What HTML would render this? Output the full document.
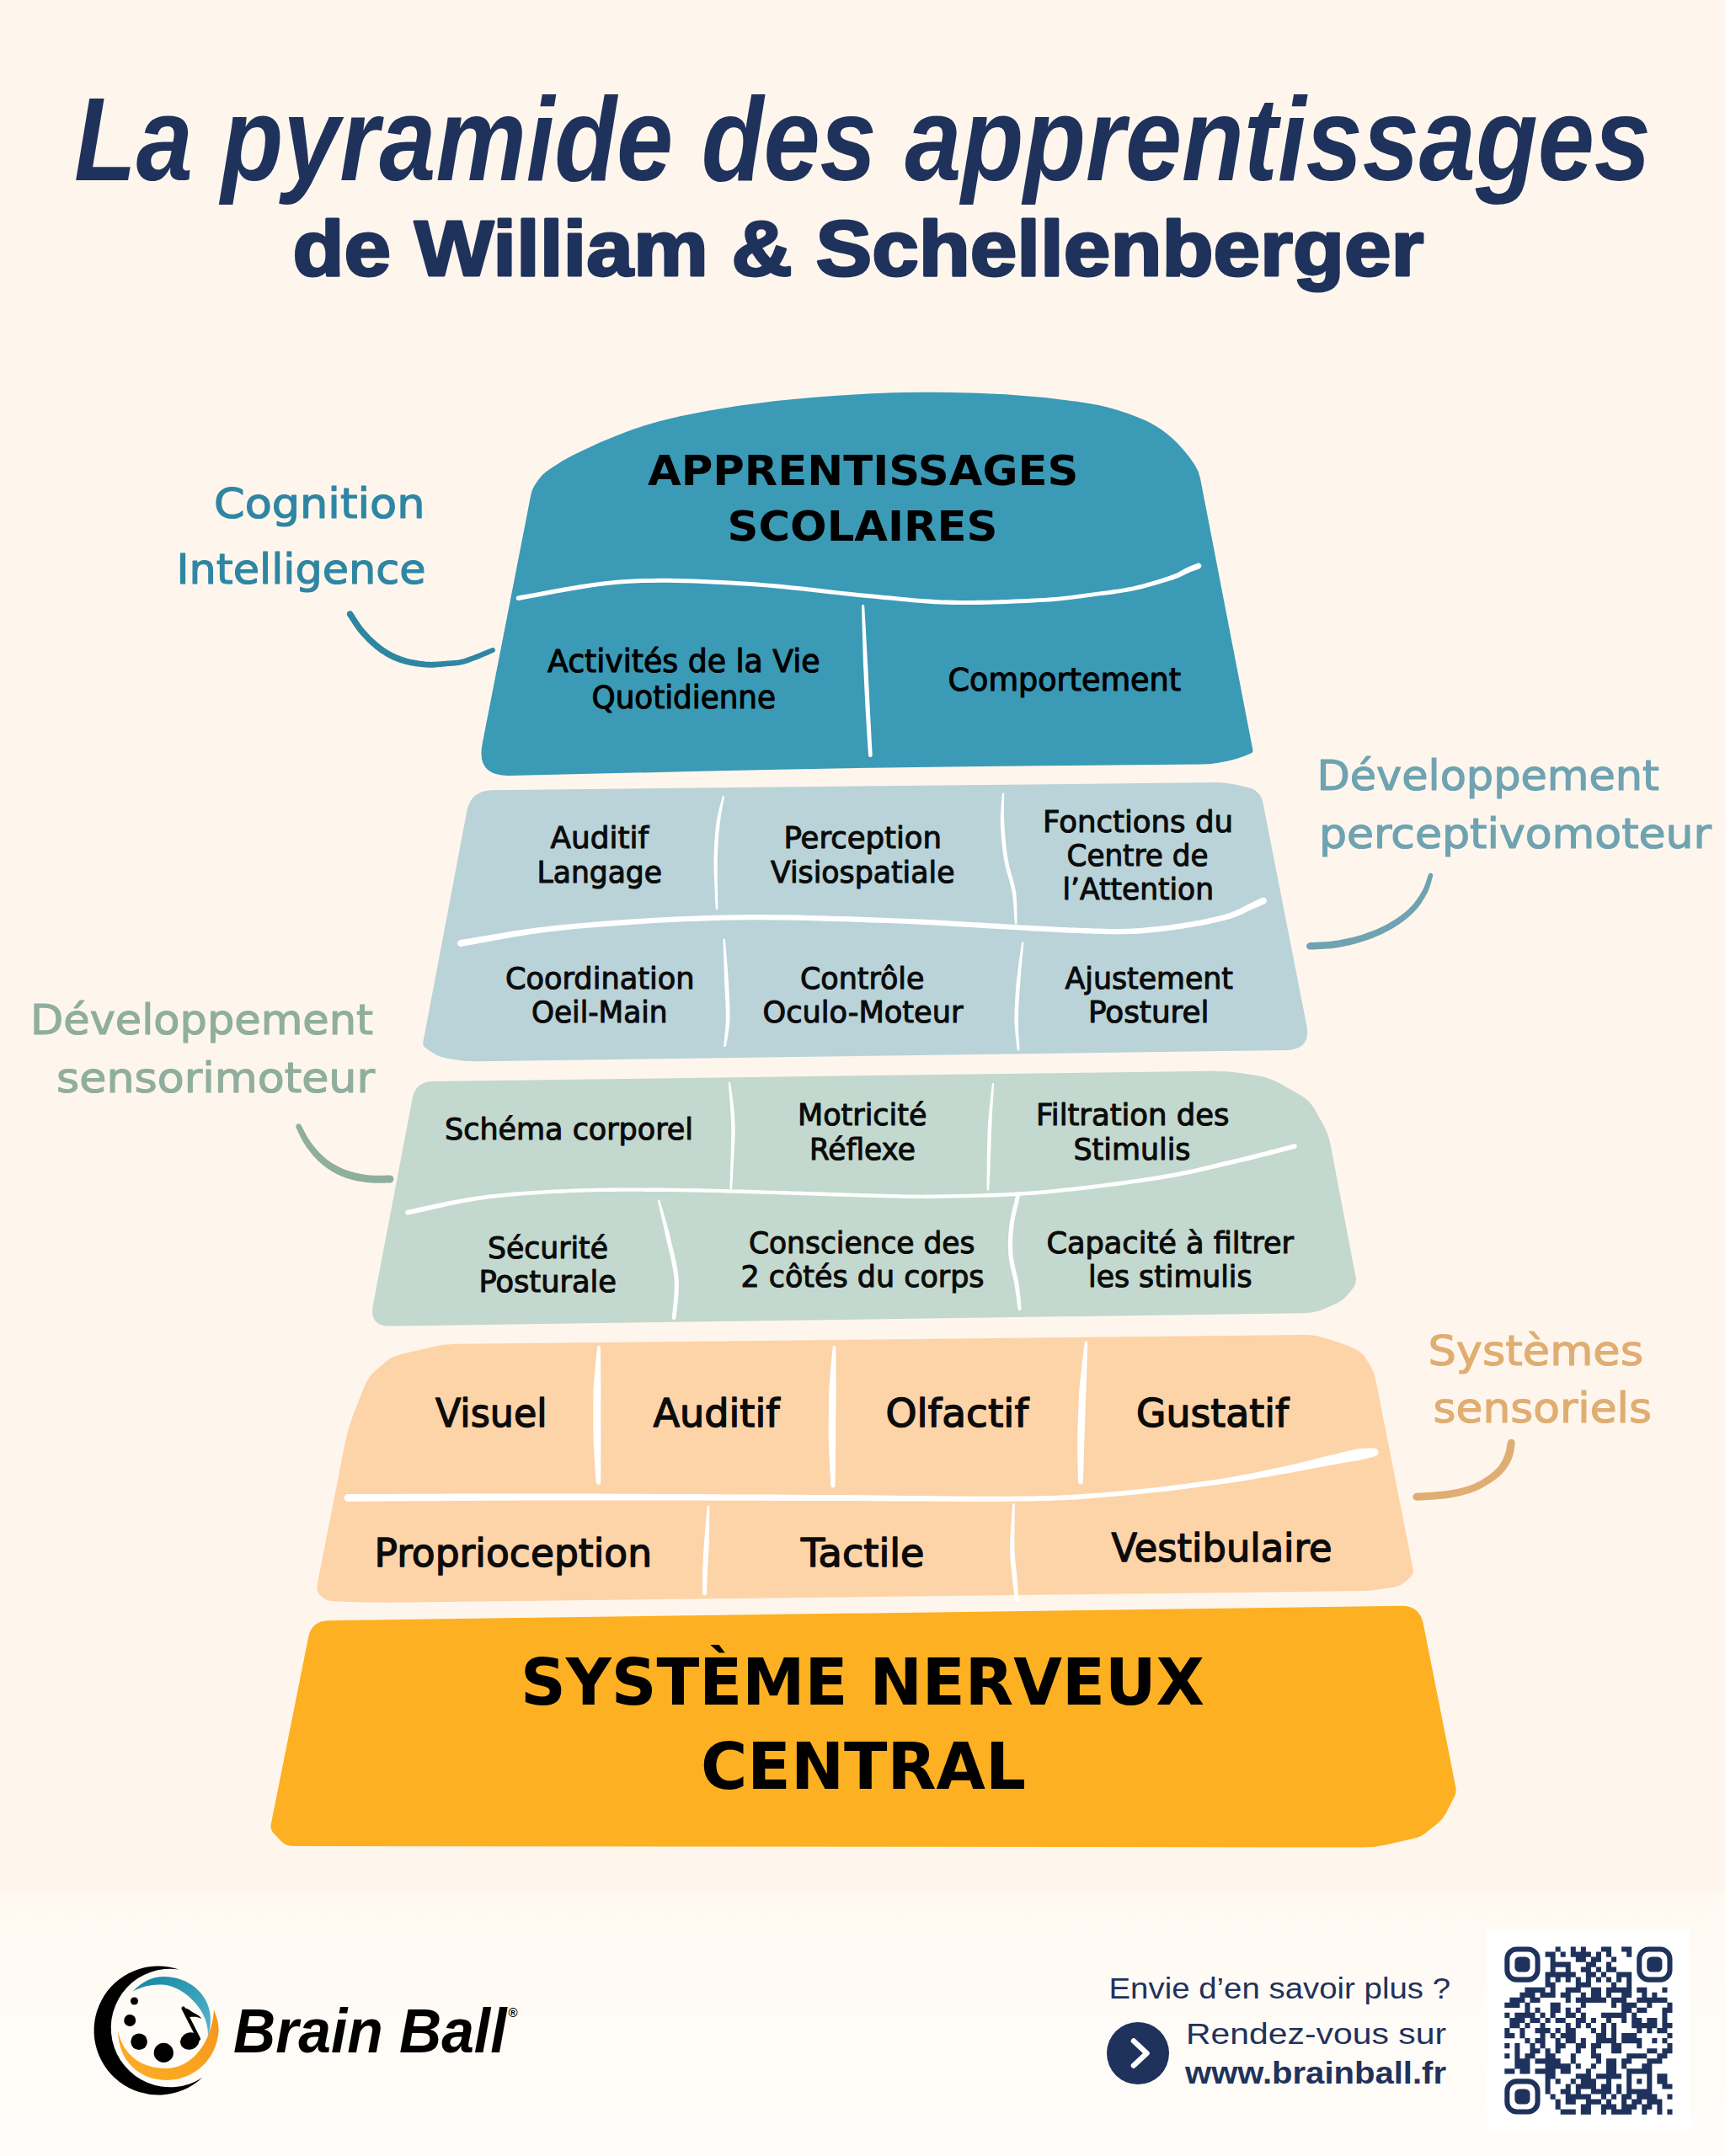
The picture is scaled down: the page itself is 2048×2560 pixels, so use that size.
<!DOCTYPE html>
<html lang="fr"><head><meta charset="utf-8"><title>La pyramide des apprentissages</title>
<style>
html,body{margin:0;padding:0;background:#fef6ec;}
body{width:2048px;height:2560px;overflow:hidden;}
svg{display:block;}
text{white-space:pre;}
</style></head><body>
<svg width="2048" height="2560" viewBox="0 0 2048 2560">
<rect width="2048" height="2560" fill="#fef6ec"/>
<linearGradient id="ftg" x1="0" y1="0" x2="0" y2="1"><stop offset="0" stop-color="#fff9f2"/><stop offset="1" stop-color="#fffdfa"/></linearGradient>
<rect y="2248.5" width="2048" height="311.5" fill="url(#ftg)"/>
<text x="88.0" y="213.5" font-family="'Liberation Sans',sans-serif" font-size="141" font-weight="700" font-style="italic" fill="#1f325c" textLength="1872.0" lengthAdjust="spacingAndGlyphs" >La pyramide des apprentissages</text>
<text x="347.5" y="326.5" font-family="'Liberation Sans',sans-serif" font-size="92" font-weight="700" font-style="normal" fill="#1f325c" textLength="1343.0" lengthAdjust="spacingAndGlyphs" stroke="#1f325c" stroke-width="3" stroke-linejoin="round">de William &amp; Schellenberger</text>
<path d="M630.3,587.5 Q631.4,581.6 634.6,576.6 L638.6,570.4 Q642.9,563.7 649.5,559.2 L655.0,555.4 Q667.1,547.1 680.2,540.6 L690.1,535.7 Q713.1,524.2 737.2,515.2 L743.7,512.7 Q774.3,501.2 806.3,494.4 L807.5,494.2 Q840.6,487.2 874.1,482.2 L878.9,481.4 Q917.1,475.7 955.7,472.7 L970.0,471.6 Q1000.0,469.3 1030.0,467.6 L1030.0,467.6 Q1060.0,466.0 1090.0,465.8 L1104.7,465.8 Q1149.3,465.5 1193.9,468.3 L1200.0,468.7 Q1238.6,471.1 1276.8,476.6 L1288.1,478.2 Q1315.1,482.1 1340.6,491.6 L1351.5,495.7 Q1366.1,501.2 1378.8,510.1 L1379.0,510.3 Q1391.6,519.1 1401.8,530.5 L1404.9,534.0 Q1412.0,542.0 1417.8,551.0 L1419.2,553.3 Q1423.5,560.0 1425.0,567.9 L1487.4,890.6 Q1488.0,893.5 1485.2,894.6 L1477.3,897.8 Q1468.0,901.5 1458.2,903.5 L1447.8,905.5 Q1438.0,907.5 1428.0,907.6 L1235.5,909.2 Q1033.0,911.0 830.5,915.8 L605.0,921.1 Q565.0,922.0 572.7,882.7 Z" fill="#3b9ab6"/>
<path d="M554.3,963.1 Q559.0,938.5 584.0,938.2 L1443.0,929.1 Q1455.0,929.0 1466.7,931.6 L1482.6,935.2 Q1488.5,936.5 1492.7,940.7 L1494.5,942.5 Q1498.0,946.0 1499.0,950.9 L1551.2,1217.1 Q1557.0,1246.5 1527.0,1246.9 L566.0,1260.3 Q552.0,1260.5 538.2,1258.1 L530.8,1256.7 Q521.0,1255.0 512.7,1249.5 L505.7,1244.8 Q501.5,1242.0 502.4,1237.1 Z" fill="#b9d3d9"/>
<path d="M489.7,1303.9 Q493.5,1284.3 513.5,1284.0 L1438.0,1271.8 Q1458.0,1271.5 1477.7,1274.8 L1494.2,1277.5 Q1508.0,1279.8 1520.2,1286.8 L1544.6,1300.7 Q1555.0,1306.7 1560.9,1317.2 L1571.1,1335.5 Q1577.0,1346.0 1579.3,1357.8 L1609.5,1516.1 Q1611.0,1524.0 1605.9,1530.2 L1599.6,1537.8 Q1594.5,1544.0 1587.2,1547.4 L1574.7,1553.1 Q1562.0,1559.0 1548.0,1559.2 L464.0,1574.6 Q438.0,1575.0 442.9,1549.5 Z" fill="#c3d8ce"/>
<path d="M409.2,1715.6 Q413.0,1696.0 420.3,1677.4 L432.6,1646.2 Q437.0,1635.0 446.1,1627.2 L457.9,1617.1 Q465.5,1610.6 475.2,1608.3 L510.9,1599.7 Q526.5,1596.0 542.5,1595.8 L1548.0,1585.1 Q1562.0,1585.0 1575.3,1589.4 L1595.4,1596.0 Q1603.0,1598.5 1610.0,1602.4 L1612.8,1604.0 Q1618.0,1607.0 1621.1,1612.1 L1627.3,1622.2 Q1631.5,1629.0 1633.0,1636.8 L1677.6,1863.1 Q1678.8,1869.0 1674.3,1872.9 L1668.1,1878.3 Q1662.0,1883.5 1654.1,1884.7 L1636.9,1887.2 Q1625.0,1889.0 1613.0,1889.1 L466.0,1902.7 Q440.0,1903.0 414.0,1902.0 L396.0,1901.3 Q388.0,1901.0 381.9,1895.8 L381.1,1895.2 Q375.0,1890.0 376.5,1882.1 Z" fill="#fdd3a8"/>
<path d="M366.1,1944.1 Q370.0,1924.5 390.0,1924.2 L1663.5,1906.8 Q1685.5,1906.5 1689.8,1928.1 L1728.3,2122.1 Q1729.5,2128.0 1726.8,2133.3 L1716.7,2152.9 Q1713.0,2160.0 1706.8,2165.0 L1693.2,2176.0 Q1687.0,2181.0 1679.2,2182.8 L1645.7,2190.4 Q1632.0,2193.5 1618.0,2193.5 L347.0,2192.0 Q339.0,2192.0 333.6,2186.1 L324.6,2176.4 Q320.5,2172.0 321.7,2166.1 Z" fill="#fdb022"/>
<path d="M615.8,712.9 L621.0,712.0 L627.2,710.8 L634.4,709.5 L642.5,707.9 L651.3,706.2 L660.7,704.5 L670.5,702.7 L680.8,700.9 L691.2,699.2 L701.8,697.5 L712.4,696.1 L722.9,694.8 L733.2,693.7 L743.1,692.9 L752.8,692.4 L762.8,692.1 L772.8,691.9 L783.0,691.8 L793.3,691.8 L803.7,692.0 L814.2,692.2 L824.7,692.6 L835.2,693.0 L845.8,693.5 L856.3,694.0 L866.8,694.6 L877.3,695.2 L887.7,695.8 L898.1,696.5 L908.7,697.3 L919.5,698.3 L930.4,699.3 L941.2,700.4 L952.1,701.6 L962.9,702.8 L973.6,704.0 L984.2,705.2 L994.5,706.3 L1004.5,707.5 L1014.2,708.5 L1023.6,709.5 L1032.5,710.3 L1040.9,711.1 L1048.9,711.9 L1056.5,712.6 L1063.7,713.3 L1070.6,714.0 L1077.3,714.6 L1083.9,715.3 L1090.4,715.8 L1096.8,716.3 L1103.3,716.8 L1109.9,717.2 L1116.7,717.5 L1123.7,717.8 L1130.9,718.0 L1138.5,718.1 L1146.4,718.1 L1154.6,718.1 L1162.8,718.0 L1171.2,717.8 L1179.6,717.5 L1188.0,717.3 L1196.2,717.0 L1204.4,716.6 L1212.2,716.2 L1219.8,715.9 L1227.0,715.5 L1233.8,715.1 L1240.1,714.7 L1246.0,714.4 L1251.5,714.0 L1256.6,713.5 L1261.4,713.1 L1265.9,712.6 L1270.2,712.1 L1274.3,711.6 L1278.2,711.1 L1282.0,710.6 L1285.7,710.1 L1289.3,709.5 L1293.0,709.0 L1296.6,708.5 L1300.3,708.0 L1304.0,707.6 L1307.6,707.1 L1311.0,706.7 L1314.4,706.3 L1317.6,705.9 L1320.9,705.5 L1324.0,705.0 L1327.1,704.6 L1330.2,704.1 L1333.4,703.6 L1336.5,703.1 L1339.6,702.5 L1342.8,701.9 L1346.0,701.2 L1349.4,700.5 L1352.8,699.7 L1356.3,698.9 L1359.8,698.0 L1363.4,697.0 L1367.0,696.1 L1370.5,695.1 L1373.9,694.1 L1377.2,693.1 L1380.5,692.1 L1383.5,691.2 L1386.4,690.3 L1389.1,689.5 L1391.6,688.7 L1393.9,687.9 L1395.9,687.1 L1397.8,686.4 L1399.6,685.7 L1401.1,685.0 L1402.6,684.3 L1403.9,683.7 L1405.2,683.1 L1406.3,682.5 L1407.4,681.9 L1408.5,681.4 L1409.5,680.9 L1410.5,680.4 L1411.6,680.0 L1412.7,679.5 L1413.8,679.1 L1414.9,678.6 L1416.0,678.2 L1417.1,677.8 L1418.1,677.4 L1419.1,677.0 L1420.0,676.7 L1420.9,676.4 L1421.7,676.1 L1422.4,675.8 L1423.1,675.6 L1423.7,675.4 L1424.2,675.2 L1425.6,674.1 L1426.4,672.5 L1426.2,670.8 L1425.1,669.4 L1423.5,668.6 L1421.8,668.8 L1421.3,669.0 L1420.7,669.3 L1420.1,669.5 L1419.3,669.8 L1418.5,670.1 L1417.6,670.5 L1416.7,670.8 L1415.7,671.2 L1414.7,671.6 L1413.6,672.1 L1412.5,672.5 L1411.3,673.0 L1410.2,673.5 L1409.0,674.0 L1407.8,674.6 L1406.7,675.2 L1405.5,675.8 L1404.5,676.4 L1403.4,677.0 L1402.3,677.7 L1401.1,678.3 L1399.9,679.0 L1398.6,679.7 L1397.2,680.4 L1395.6,681.1 L1393.9,681.8 L1391.9,682.6 L1389.8,683.3 L1387.4,684.2 L1384.7,685.1 L1381.9,686.0 L1378.9,687.0 L1375.7,688.0 L1372.4,689.0 L1369.0,690.0 L1365.5,691.0 L1362.0,692.0 L1358.5,693.0 L1355.0,693.9 L1351.6,694.8 L1348.2,695.6 L1345.0,696.4 L1341.8,697.0 L1338.7,697.6 L1335.6,698.2 L1332.5,698.7 L1329.5,699.2 L1326.4,699.7 L1323.3,700.1 L1320.2,700.6 L1317.0,701.0 L1313.8,701.4 L1310.4,701.8 L1307.0,702.2 L1303.4,702.7 L1299.7,703.2 L1295.9,703.7 L1292.3,704.2 L1288.6,704.7 L1285.0,705.2 L1281.3,705.7 L1277.5,706.2 L1273.7,706.8 L1269.6,707.3 L1265.4,707.7 L1260.9,708.2 L1256.1,708.7 L1251.1,709.1 L1245.7,709.5 L1239.9,709.9 L1233.6,710.2 L1226.8,710.6 L1219.6,710.9 L1212.0,711.3 L1204.1,711.6 L1196.1,711.9 L1187.8,712.2 L1179.5,712.5 L1171.1,712.7 L1162.7,712.8 L1154.5,712.9 L1146.4,713.0 L1138.6,712.9 L1131.1,712.8 L1123.8,712.6 L1116.9,712.4 L1110.2,712.0 L1103.7,711.6 L1097.2,711.2 L1090.8,710.7 L1084.3,710.2 L1077.8,709.6 L1071.1,709.0 L1064.2,708.3 L1056.9,707.6 L1049.4,706.9 L1041.4,706.1 L1033.0,705.3 L1024.1,704.5 L1014.8,703.5 L1005.1,702.5 L995.0,701.4 L984.7,700.2 L974.2,699.0 L963.5,697.8 L952.7,696.6 L941.8,695.5 L930.8,694.3 L920.0,693.3 L909.1,692.4 L898.5,691.5 L888.0,690.8 L877.6,690.2 L867.1,689.6 L856.6,689.0 L846.0,688.5 L835.5,688.0 L824.9,687.6 L814.3,687.2 L803.8,687.0 L793.4,686.8 L783.0,686.8 L772.8,686.9 L762.6,687.1 L752.6,687.4 L742.7,687.9 L732.7,688.7 L722.4,689.7 L711.8,691.0 L701.1,692.4 L690.4,694.1 L679.9,695.8 L669.6,697.5 L659.7,699.3 L650.3,701.0 L641.5,702.7 L633.4,704.2 L626.2,705.5 L620.0,706.6 L614.9,707.4 L613.6,708.0 L612.8,709.2 L612.6,710.6 L613.2,711.9 L614.4,712.7Z" fill="#fff"/>
<path d="M1023.1,719.5 L1023.1,722.3 L1023.2,725.8 L1023.3,729.8 L1023.4,734.4 L1023.5,739.3 L1023.7,744.6 L1023.8,750.1 L1024.0,755.7 L1024.2,761.5 L1024.3,767.1 L1024.5,772.7 L1024.6,778.1 L1024.8,783.2 L1024.9,787.9 L1025.1,792.4 L1025.4,796.8 L1025.6,801.2 L1025.8,805.5 L1026.0,809.7 L1026.2,813.9 L1026.4,818.0 L1026.6,822.1 L1026.8,826.2 L1027.0,830.2 L1027.2,834.2 L1027.4,838.1 L1027.6,842.0 L1027.8,845.9 L1028.1,849.9 L1028.3,854.0 L1028.6,858.3 L1028.8,862.5 L1029.1,866.8 L1029.3,871.0 L1029.6,875.1 L1029.8,879.0 L1030.1,882.8 L1030.3,886.3 L1030.5,889.5 L1030.7,892.4 L1030.9,894.9 L1031.0,896.9 L1031.4,898.1 L1032.3,898.9 L1033.5,899.1 L1034.6,898.8 L1035.4,897.9 L1035.7,896.7 L1035.6,894.6 L1035.4,892.1 L1035.3,889.2 L1035.1,886.0 L1034.9,882.5 L1034.7,878.7 L1034.5,874.8 L1034.3,870.7 L1034.1,866.5 L1033.9,862.2 L1033.6,858.0 L1033.4,853.8 L1033.2,849.6 L1033.0,845.7 L1032.8,841.8 L1032.6,837.8 L1032.4,833.9 L1032.2,829.9 L1032.0,825.9 L1031.8,821.9 L1031.6,817.8 L1031.4,813.6 L1031.2,809.5 L1031.0,805.2 L1030.8,800.9 L1030.5,796.6 L1030.3,792.2 L1030.1,787.7 L1029.8,783.0 L1029.5,777.9 L1029.2,772.5 L1028.9,766.9 L1028.6,761.3 L1028.3,755.6 L1028.0,749.9 L1027.7,744.4 L1027.4,739.2 L1027.1,734.2 L1026.8,729.7 L1026.6,725.6 L1026.4,722.2 L1026.2,719.4 L1026.0,718.6 L1025.4,718.0 L1024.6,717.9 L1023.8,718.1 L1023.3,718.7Z" fill="#fff"/>
<path d="M547.6,1123.9 L552.5,1123.1 L558.3,1122.0 L564.8,1120.8 L572.1,1119.4 L580.0,1118.0 L588.5,1116.4 L597.6,1114.8 L607.2,1113.1 L617.1,1111.5 L627.5,1109.8 L638.1,1108.3 L649.0,1106.8 L660.1,1105.4 L671.3,1104.2 L682.9,1103.1 L695.1,1102.0 L707.9,1100.9 L721.2,1099.9 L734.8,1098.9 L748.8,1097.9 L763.0,1097.0 L777.4,1096.1 L791.9,1095.3 L806.4,1094.6 L820.8,1094.0 L835.1,1093.4 L849.2,1092.9 L863.1,1092.6 L876.8,1092.4 L890.6,1092.3 L904.6,1092.3 L918.5,1092.4 L932.6,1092.5 L946.5,1092.8 L960.5,1093.1 L974.3,1093.5 L988.1,1093.9 L1001.7,1094.3 L1015.1,1094.7 L1028.3,1095.2 L1041.2,1095.7 L1053.9,1096.1 L1066.4,1096.6 L1079.1,1097.1 L1091.7,1097.7 L1104.3,1098.3 L1116.8,1099.0 L1129.0,1099.7 L1141.1,1100.4 L1152.8,1101.0 L1164.1,1101.7 L1175.0,1102.4 L1185.4,1103.0 L1195.2,1103.6 L1204.4,1104.1 L1212.8,1104.6 L1220.5,1105.0 L1227.2,1105.4 L1233.3,1105.7 L1238.7,1106.0 L1243.6,1106.3 L1248.1,1106.6 L1252.2,1106.8 L1256.1,1107.0 L1259.8,1107.2 L1263.5,1107.4 L1267.3,1107.6 L1271.2,1107.7 L1275.4,1107.9 L1279.9,1108.0 L1284.6,1108.2 L1289.3,1108.4 L1293.9,1108.6 L1298.6,1108.7 L1303.3,1108.9 L1307.9,1109.0 L1312.6,1109.2 L1317.2,1109.3 L1321.8,1109.3 L1326.5,1109.4 L1331.1,1109.3 L1335.8,1109.3 L1340.5,1109.1 L1345.2,1108.9 L1349.9,1108.7 L1354.7,1108.4 L1359.5,1108.0 L1364.4,1107.5 L1369.2,1107.1 L1374.1,1106.5 L1378.9,1106.0 L1383.7,1105.4 L1388.4,1104.8 L1393.1,1104.2 L1397.6,1103.5 L1402.0,1102.9 L1406.4,1102.3 L1410.5,1101.6 L1414.6,1101.0 L1418.6,1100.3 L1422.5,1099.6 L1426.4,1098.9 L1430.2,1098.1 L1433.9,1097.4 L1437.6,1096.6 L1441.1,1095.8 L1444.5,1095.0 L1447.8,1094.3 L1450.9,1093.5 L1453.9,1092.7 L1456.8,1091.9 L1459.6,1091.2 L1462.1,1090.4 L1464.6,1089.6 L1466.8,1088.8 L1468.9,1088.0 L1470.8,1087.2 L1472.6,1086.4 L1474.3,1085.6 L1476.0,1084.9 L1477.5,1084.1 L1479.0,1083.4 L1480.4,1082.7 L1481.8,1082.0 L1483.1,1081.3 L1484.5,1080.7 L1486.0,1080.1 L1487.5,1079.4 L1489.0,1078.8 L1490.5,1078.1 L1491.9,1077.5 L1493.3,1076.9 L1494.7,1076.3 L1495.9,1075.7 L1497.1,1075.1 L1498.3,1074.6 L1499.3,1074.2 L1500.2,1073.8 L1501.0,1073.4 L1501.7,1073.1 L1503.3,1071.8 L1504.0,1069.9 L1503.6,1067.8 L1502.3,1066.2 L1500.4,1065.5 L1498.3,1065.9 L1497.7,1066.2 L1496.9,1066.6 L1496.0,1067.0 L1494.9,1067.5 L1493.8,1068.0 L1492.7,1068.6 L1491.4,1069.2 L1490.1,1069.8 L1488.7,1070.5 L1487.3,1071.2 L1485.9,1071.8 L1484.4,1072.5 L1482.9,1073.2 L1481.5,1073.9 L1479.9,1074.6 L1478.5,1075.4 L1477.0,1076.1 L1475.6,1076.9 L1474.2,1077.7 L1472.7,1078.4 L1471.2,1079.2 L1469.6,1080.0 L1468.0,1080.8 L1466.2,1081.6 L1464.3,1082.3 L1462.3,1083.1 L1460.1,1083.9 L1457.6,1084.6 L1455.0,1085.4 L1452.2,1086.2 L1449.2,1087.0 L1446.2,1087.7 L1442.9,1088.5 L1439.6,1089.3 L1436.1,1090.1 L1432.6,1090.9 L1428.9,1091.7 L1425.2,1092.4 L1421.3,1093.1 L1417.5,1093.8 L1413.5,1094.5 L1409.5,1095.2 L1405.4,1095.8 L1401.1,1096.5 L1396.7,1097.1 L1392.2,1097.7 L1387.6,1098.4 L1382.9,1099.0 L1378.1,1099.5 L1373.4,1100.1 L1368.6,1100.6 L1363.7,1101.1 L1359.0,1101.5 L1354.2,1101.9 L1349.5,1102.2 L1344.8,1102.5 L1340.2,1102.7 L1335.7,1102.8 L1331.1,1102.9 L1326.5,1102.9 L1321.9,1102.9 L1317.3,1102.9 L1312.7,1102.8 L1308.1,1102.7 L1303.5,1102.5 L1298.8,1102.4 L1294.2,1102.2 L1289.5,1102.1 L1284.8,1101.9 L1280.1,1101.8 L1275.6,1101.6 L1271.5,1101.5 L1267.6,1101.3 L1263.8,1101.1 L1260.1,1101.0 L1256.4,1100.8 L1252.5,1100.6 L1248.4,1100.3 L1244.0,1100.1 L1239.1,1099.8 L1233.7,1099.5 L1227.6,1099.2 L1220.8,1098.8 L1213.2,1098.4 L1204.7,1097.9 L1195.6,1097.4 L1185.8,1096.8 L1175.4,1096.2 L1164.5,1095.5 L1153.2,1094.9 L1141.4,1094.2 L1129.4,1093.5 L1117.1,1092.8 L1104.6,1092.1 L1092.0,1091.5 L1079.3,1090.9 L1066.7,1090.4 L1054.1,1089.9 L1041.5,1089.5 L1028.5,1089.0 L1015.3,1088.6 L1001.9,1088.1 L988.3,1087.7 L974.5,1087.3 L960.6,1086.9 L946.7,1086.6 L932.6,1086.3 L918.6,1086.2 L904.6,1086.1 L890.6,1086.1 L876.7,1086.2 L862.9,1086.4 L849.1,1086.7 L834.9,1087.2 L820.6,1087.7 L806.1,1088.3 L791.6,1089.1 L777.0,1089.8 L762.6,1090.7 L748.4,1091.6 L734.4,1092.6 L720.7,1093.6 L707.4,1094.6 L694.6,1095.7 L682.3,1096.7 L670.7,1097.8 L659.4,1098.9 L648.2,1100.2 L637.2,1101.6 L626.5,1103.0 L616.1,1104.6 L606.0,1106.1 L596.4,1107.7 L587.3,1109.2 L578.7,1110.7 L570.7,1112.0 L563.5,1113.3 L556.9,1114.4 L551.2,1115.3 L546.4,1116.1 L544.5,1116.9 L543.3,1118.6 L543.1,1120.6 L543.9,1122.5 L545.6,1123.7Z" fill="#fff"/>
<path d="M857.7,945.9 L857.4,947.1 L857.0,948.6 L856.5,950.3 L856.0,952.2 L855.4,954.3 L854.8,956.6 L854.2,959.0 L853.6,961.5 L853.0,964.1 L852.4,966.8 L851.8,969.5 L851.3,972.2 L850.8,975.0 L850.3,977.7 L850.0,980.5 L849.7,983.2 L849.4,986.1 L849.1,988.9 L848.8,991.9 L848.6,994.9 L848.4,998.0 L848.2,1001.1 L848.0,1004.3 L847.8,1007.5 L847.7,1010.9 L847.6,1014.3 L847.5,1017.8 L847.4,1021.4 L847.4,1025.2 L847.5,1029.4 L847.6,1033.8 L847.8,1038.5 L848.0,1043.3 L848.2,1048.1 L848.4,1052.9 L848.6,1057.5 L848.8,1062.0 L849.0,1066.2 L849.2,1070.1 L849.4,1073.5 L849.6,1076.5 L849.7,1078.8 L849.9,1079.5 L850.4,1080.0 L851.0,1080.1 L851.7,1079.9 L852.2,1079.4 L852.3,1078.8 L852.3,1076.4 L852.3,1073.4 L852.2,1070.0 L852.1,1066.1 L852.1,1061.9 L852.0,1057.4 L851.9,1052.8 L851.8,1048.0 L851.7,1043.2 L851.7,1038.4 L851.7,1033.8 L851.7,1029.4 L851.7,1025.2 L851.8,1021.4 L851.9,1017.9 L852.0,1014.4 L852.1,1011.1 L852.2,1007.7 L852.4,1004.5 L852.6,1001.4 L852.8,998.3 L853.0,995.2 L853.2,992.3 L853.5,989.4 L853.8,986.5 L854.1,983.7 L854.4,981.0 L854.7,978.3 L855.0,975.6 L855.3,972.9 L855.7,970.2 L856.1,967.5 L856.5,964.8 L857.0,962.2 L857.4,959.7 L857.9,957.3 L858.3,955.0 L858.7,952.9 L859.1,950.9 L859.4,949.2 L859.7,947.6 L859.9,946.3 L859.8,945.8 L859.5,945.3 L859.0,945.0 L858.5,945.1 L858.0,945.4Z" fill="#fff"/>
<path d="M1189.9,942.6 L1189.7,944.0 L1189.6,945.7 L1189.4,947.6 L1189.2,949.8 L1189.0,952.2 L1188.8,954.8 L1188.6,957.5 L1188.4,960.3 L1188.2,963.3 L1188.0,966.2 L1187.9,969.2 L1187.8,972.2 L1187.8,975.2 L1187.8,978.1 L1187.9,981.0 L1188.1,984.0 L1188.3,987.0 L1188.5,990.2 L1188.8,993.3 L1189.1,996.5 L1189.4,999.8 L1189.7,1003.0 L1190.1,1006.3 L1190.4,1009.5 L1190.9,1012.6 L1191.3,1015.8 L1191.7,1018.8 L1192.2,1021.8 L1192.8,1024.7 L1193.4,1027.6 L1194.1,1030.4 L1194.8,1033.2 L1195.5,1035.9 L1196.3,1038.6 L1197.1,1041.3 L1197.8,1043.9 L1198.6,1046.5 L1199.3,1049.1 L1199.9,1051.7 L1200.5,1054.3 L1201.1,1056.9 L1201.5,1059.5 L1202.0,1062.1 L1202.4,1065.0 L1202.7,1067.9 L1203.0,1071.0 L1203.3,1074.0 L1203.5,1077.1 L1203.7,1080.1 L1203.9,1083.0 L1204.0,1085.8 L1204.2,1088.4 L1204.3,1090.8 L1204.4,1092.9 L1204.6,1094.8 L1204.7,1096.3 L1204.9,1097.0 L1205.5,1097.4 L1206.2,1097.6 L1206.9,1097.4 L1207.3,1096.8 L1207.5,1096.1 L1207.5,1094.6 L1207.5,1092.8 L1207.5,1090.7 L1207.5,1088.3 L1207.4,1085.7 L1207.4,1082.9 L1207.4,1079.9 L1207.3,1076.9 L1207.2,1073.8 L1207.1,1070.7 L1206.9,1067.6 L1206.7,1064.5 L1206.4,1061.6 L1206.1,1058.7 L1205.6,1056.0 L1205.0,1053.3 L1204.4,1050.6 L1203.7,1048.0 L1203.0,1045.3 L1202.3,1042.6 L1201.5,1040.0 L1200.7,1037.4 L1200.0,1034.7 L1199.2,1032.0 L1198.5,1029.3 L1197.9,1026.6 L1197.3,1023.8 L1196.8,1021.0 L1196.3,1018.1 L1195.8,1015.1 L1195.4,1012.0 L1195.0,1008.9 L1194.6,1005.7 L1194.3,1002.5 L1194.0,999.3 L1193.6,996.1 L1193.4,993.0 L1193.1,989.8 L1192.9,986.7 L1192.7,983.7 L1192.5,980.7 L1192.4,977.9 L1192.2,975.1 L1192.1,972.2 L1192.0,969.3 L1192.0,966.3 L1192.0,963.4 L1192.0,960.5 L1192.0,957.7 L1192.0,955.0 L1192.1,952.4 L1192.1,950.0 L1192.2,947.8 L1192.2,945.8 L1192.2,944.1 L1192.1,942.6 L1192.0,942.1 L1191.6,941.6 L1191.0,941.5 L1190.5,941.6 L1190.0,942.0Z" fill="#fff"/>
<path d="M858.5,1115.8 L858.5,1117.9 L858.6,1120.4 L858.7,1123.4 L858.8,1126.8 L859.0,1130.5 L859.1,1134.4 L859.3,1138.4 L859.4,1142.6 L859.6,1146.9 L859.7,1151.1 L859.9,1155.2 L860.0,1159.2 L860.1,1163.0 L860.2,1166.5 L860.4,1169.9 L860.5,1173.2 L860.7,1176.5 L860.9,1179.8 L861.0,1183.1 L861.2,1186.3 L861.4,1189.4 L861.5,1192.5 L861.6,1195.6 L861.7,1198.6 L861.7,1201.5 L861.8,1204.4 L861.8,1207.1 L861.7,1209.8 L861.7,1212.5 L861.6,1215.2 L861.4,1217.9 L861.2,1220.6 L861.0,1223.2 L860.8,1225.8 L860.5,1228.3 L860.3,1230.7 L860.0,1232.9 L859.8,1235.0 L859.6,1237.0 L859.4,1238.7 L859.3,1240.2 L859.2,1241.5 L859.3,1242.3 L859.7,1242.9 L860.4,1243.1 L861.2,1243.0 L861.8,1242.6 L862.0,1241.9 L862.3,1240.6 L862.5,1239.1 L862.8,1237.4 L863.2,1235.5 L863.6,1233.4 L864.0,1231.2 L864.3,1228.8 L864.7,1226.3 L865.1,1223.7 L865.5,1221.0 L865.8,1218.3 L866.1,1215.5 L866.3,1212.7 L866.5,1210.0 L866.6,1207.2 L866.6,1204.4 L866.5,1201.4 L866.5,1198.5 L866.4,1195.4 L866.3,1192.4 L866.1,1189.2 L866.0,1186.0 L865.8,1182.8 L865.7,1179.6 L865.5,1176.3 L865.3,1173.0 L865.2,1169.6 L865.0,1166.3 L864.7,1162.8 L864.5,1159.0 L864.2,1155.0 L863.8,1150.8 L863.5,1146.6 L863.2,1142.4 L862.9,1138.2 L862.5,1134.2 L862.2,1130.3 L861.9,1126.6 L861.6,1123.3 L861.3,1120.3 L861.1,1117.7 L860.9,1115.6 L860.7,1115.0 L860.2,1114.6 L859.6,1114.5 L859.0,1114.7 L858.6,1115.2Z" fill="#fff"/>
<path d="M1213.1,1119.3 L1212.8,1121.2 L1212.4,1123.5 L1212.0,1126.3 L1211.5,1129.3 L1211.1,1132.7 L1210.6,1136.2 L1210.0,1140.0 L1209.5,1143.8 L1209.0,1147.7 L1208.5,1151.6 L1208.0,1155.5 L1207.5,1159.2 L1207.1,1162.8 L1206.7,1166.2 L1206.4,1169.4 L1206.2,1172.7 L1205.9,1175.9 L1205.7,1179.1 L1205.5,1182.3 L1205.3,1185.5 L1205.1,1188.7 L1204.9,1191.8 L1204.8,1194.9 L1204.6,1198.0 L1204.5,1201.1 L1204.5,1204.1 L1204.4,1207.0 L1204.4,1209.9 L1204.5,1212.8 L1204.6,1215.8 L1204.8,1218.9 L1205.1,1221.9 L1205.3,1225.0 L1205.6,1228.0 L1205.9,1230.9 L1206.2,1233.6 L1206.5,1236.3 L1206.7,1238.8 L1207.0,1241.0 L1207.2,1243.0 L1207.5,1244.8 L1207.6,1246.2 L1207.9,1246.9 L1208.4,1247.3 L1209.1,1247.5 L1209.8,1247.2 L1210.2,1246.7 L1210.4,1246.0 L1210.3,1244.5 L1210.3,1242.8 L1210.1,1240.7 L1210.0,1238.5 L1209.9,1236.0 L1209.7,1233.4 L1209.5,1230.6 L1209.4,1227.7 L1209.2,1224.7 L1209.1,1221.7 L1209.0,1218.7 L1209.0,1215.7 L1209.0,1212.8 L1209.0,1209.9 L1209.0,1207.1 L1209.1,1204.1 L1209.1,1201.2 L1209.2,1198.2 L1209.4,1195.1 L1209.5,1192.1 L1209.7,1189.0 L1209.9,1185.8 L1210.1,1182.6 L1210.3,1179.5 L1210.5,1176.3 L1210.8,1173.0 L1211.0,1169.8 L1211.3,1166.6 L1211.5,1163.2 L1211.8,1159.7 L1212.1,1155.9 L1212.4,1152.1 L1212.7,1148.2 L1213.1,1144.2 L1213.5,1140.4 L1213.8,1136.6 L1214.2,1133.0 L1214.5,1129.7 L1214.8,1126.6 L1215.0,1123.8 L1215.2,1121.5 L1215.3,1119.5 L1215.3,1118.9 L1214.9,1118.5 L1214.3,1118.3 L1213.7,1118.3 L1213.3,1118.7Z" fill="#fff"/>
<path d="M484.6,1442.6 L488.2,1441.8 L492.6,1440.8 L497.6,1439.7 L503.3,1438.4 L509.4,1436.9 L515.9,1435.4 L522.8,1433.9 L530.0,1432.3 L537.4,1430.8 L544.9,1429.2 L552.4,1427.8 L559.8,1426.4 L567.2,1425.2 L574.3,1424.2 L581.4,1423.3 L588.7,1422.4 L596.1,1421.7 L603.7,1420.9 L611.3,1420.2 L619.0,1419.6 L626.8,1419.0 L634.7,1418.5 L642.6,1418.0 L650.5,1417.5 L658.3,1417.1 L666.2,1416.7 L674.0,1416.3 L681.7,1416.0 L689.4,1415.7 L697.1,1415.5 L704.7,1415.3 L712.4,1415.1 L720.1,1415.0 L727.8,1414.9 L735.5,1414.8 L743.2,1414.8 L750.9,1414.8 L758.6,1414.8 L766.3,1414.9 L774.0,1414.9 L781.7,1414.9 L789.4,1415.0 L797.0,1415.1 L804.4,1415.2 L811.7,1415.3 L818.9,1415.4 L826.0,1415.5 L833.2,1415.7 L840.5,1415.9 L847.9,1416.1 L855.4,1416.3 L863.1,1416.5 L871.1,1416.8 L879.5,1417.0 L888.2,1417.2 L897.2,1417.5 L907.0,1417.8 L917.4,1418.1 L928.5,1418.4 L940.0,1418.8 L951.8,1419.2 L963.9,1419.6 L975.9,1420.0 L987.9,1420.4 L999.7,1420.7 L1011.0,1421.1 L1021.9,1421.4 L1032.1,1421.7 L1041.5,1422.0 L1049.9,1422.2 L1057.4,1422.4 L1063.9,1422.5 L1069.6,1422.7 L1074.7,1422.8 L1079.3,1422.9 L1083.5,1423.0 L1087.5,1423.0 L1091.3,1423.1 L1095.2,1423.1 L1099.3,1423.0 L1103.7,1423.0 L1108.5,1422.9 L1113.9,1422.8 L1120.0,1422.7 L1126.7,1422.6 L1133.7,1422.4 L1140.9,1422.3 L1148.4,1422.2 L1156.0,1422.0 L1164.0,1421.8 L1172.1,1421.6 L1180.4,1421.4 L1188.8,1421.0 L1197.5,1420.6 L1206.2,1420.2 L1215.1,1419.6 L1224.1,1419.0 L1233.2,1418.3 L1242.6,1417.5 L1252.4,1416.5 L1262.6,1415.5 L1273.1,1414.4 L1283.8,1413.2 L1294.6,1411.9 L1305.4,1410.6 L1316.2,1409.3 L1326.9,1407.9 L1337.3,1406.5 L1347.5,1405.1 L1357.3,1403.7 L1366.6,1402.3 L1375.4,1401.0 L1383.7,1399.6 L1391.7,1398.2 L1399.5,1396.7 L1406.9,1395.3 L1414.1,1393.8 L1421.0,1392.3 L1427.8,1390.8 L1434.3,1389.2 L1440.7,1387.7 L1446.9,1386.3 L1453.0,1384.8 L1458.9,1383.4 L1464.8,1382.0 L1470.6,1380.6 L1476.4,1379.3 L1482.3,1377.9 L1488.1,1376.5 L1493.8,1375.1 L1499.4,1373.7 L1504.9,1372.3 L1510.1,1370.9 L1515.2,1369.6 L1519.9,1368.4 L1524.3,1367.3 L1528.3,1366.2 L1531.9,1365.3 L1535.1,1364.5 L1537.7,1363.8 L1539.0,1363.1 L1539.8,1361.8 L1539.8,1360.3 L1539.1,1359.0 L1537.8,1358.2 L1536.3,1358.2 L1533.6,1358.9 L1530.5,1359.7 L1526.9,1360.7 L1522.8,1361.8 L1518.4,1362.9 L1513.7,1364.2 L1508.7,1365.5 L1503.5,1366.9 L1498.1,1368.3 L1492.5,1369.7 L1486.8,1371.2 L1481.0,1372.6 L1475.2,1374.0 L1469.4,1375.4 L1463.6,1376.8 L1457.7,1378.2 L1451.7,1379.6 L1445.6,1381.1 L1439.5,1382.6 L1433.1,1384.2 L1426.6,1385.7 L1419.9,1387.2 L1413.0,1388.7 L1405.9,1390.3 L1398.5,1391.7 L1390.8,1393.2 L1382.9,1394.6 L1374.6,1396.0 L1365.9,1397.4 L1356.6,1398.8 L1346.8,1400.3 L1336.7,1401.7 L1326.2,1403.1 L1315.6,1404.5 L1304.8,1405.9 L1294.0,1407.2 L1283.2,1408.5 L1272.6,1409.7 L1262.1,1410.8 L1251.9,1411.9 L1242.1,1412.9 L1232.8,1413.7 L1223.8,1414.4 L1214.8,1415.1 L1206.0,1415.6 L1197.2,1416.1 L1188.6,1416.5 L1180.2,1416.8 L1171.9,1417.1 L1163.8,1417.4 L1155.9,1417.6 L1148.3,1417.7 L1140.8,1417.9 L1133.6,1418.0 L1126.6,1418.2 L1120.0,1418.3 L1113.8,1418.4 L1108.4,1418.5 L1103.6,1418.6 L1099.3,1418.6 L1095.2,1418.7 L1091.3,1418.7 L1087.5,1418.6 L1083.6,1418.6 L1079.4,1418.5 L1074.8,1418.4 L1069.7,1418.3 L1064.0,1418.1 L1057.5,1418.0 L1050.1,1417.8 L1041.6,1417.6 L1032.2,1417.3 L1022.0,1417.0 L1011.2,1416.7 L999.8,1416.3 L988.1,1416.0 L976.1,1415.6 L964.0,1415.2 L952.0,1414.8 L940.1,1414.4 L928.6,1414.0 L917.6,1413.7 L907.1,1413.4 L897.4,1413.1 L888.3,1412.8 L879.6,1412.6 L871.3,1412.4 L863.3,1412.1 L855.5,1411.9 L848.0,1411.7 L840.6,1411.5 L833.3,1411.3 L826.1,1411.1 L819.0,1411.0 L811.7,1410.9 L804.4,1410.8 L797.0,1410.7 L789.4,1410.6 L781.7,1410.5 L774.0,1410.5 L766.3,1410.5 L758.6,1410.4 L750.9,1410.4 L743.2,1410.4 L735.5,1410.4 L727.8,1410.5 L720.1,1410.6 L712.3,1410.7 L704.6,1410.9 L696.9,1411.1 L689.2,1411.3 L681.5,1411.6 L673.8,1411.9 L666.0,1412.3 L658.1,1412.6 L650.2,1413.0 L642.3,1413.5 L634.4,1413.9 L626.5,1414.4 L618.7,1415.0 L610.9,1415.6 L603.2,1416.3 L595.7,1417.0 L588.2,1417.7 L580.9,1418.5 L573.7,1419.4 L566.5,1420.4 L559.0,1421.5 L551.5,1422.8 L543.9,1424.2 L536.4,1425.6 L528.9,1427.1 L521.7,1428.6 L514.8,1430.1 L508.2,1431.5 L502.0,1432.8 L496.4,1434.1 L491.4,1435.2 L487.0,1436.1 L483.4,1436.8 L482.0,1437.5 L481.2,1438.8 L481.1,1440.3 L481.8,1441.7 L483.1,1442.5Z" fill="#fff"/>
<path d="M864.9,1286.0 L865.0,1287.4 L865.1,1289.2 L865.2,1291.2 L865.4,1293.4 L865.6,1295.9 L865.8,1298.5 L866.1,1301.3 L866.3,1304.1 L866.5,1306.9 L866.7,1309.7 L866.9,1312.5 L867.1,1315.2 L867.2,1317.8 L867.3,1320.2 L867.5,1322.3 L867.6,1324.4 L867.7,1326.3 L867.8,1328.1 L867.9,1329.9 L868.0,1331.6 L868.1,1333.4 L868.1,1335.2 L868.2,1337.2 L868.2,1339.3 L868.2,1341.6 L868.2,1344.1 L868.2,1346.9 L868.1,1350.0 L868.1,1353.5 L868.0,1357.6 L867.9,1362.0 L867.8,1366.9 L867.7,1371.9 L867.5,1377.1 L867.3,1382.3 L867.2,1387.4 L867.0,1392.4 L866.9,1397.0 L866.7,1401.3 L866.6,1405.2 L866.5,1408.4 L866.5,1410.9 L866.6,1411.6 L867.1,1412.1 L867.7,1412.3 L868.4,1412.2 L868.9,1411.7 L869.1,1411.1 L869.3,1408.5 L869.5,1405.3 L869.7,1401.5 L870.0,1397.2 L870.3,1392.5 L870.6,1387.6 L870.9,1382.5 L871.1,1377.3 L871.4,1372.1 L871.7,1367.0 L871.9,1362.2 L872.2,1357.7 L872.4,1353.6 L872.5,1350.0 L872.6,1346.9 L872.6,1344.1 L872.6,1341.6 L872.6,1339.3 L872.6,1337.1 L872.5,1335.1 L872.5,1333.2 L872.4,1331.4 L872.3,1329.6 L872.2,1327.8 L872.1,1326.0 L872.0,1324.1 L871.8,1322.0 L871.7,1319.8 L871.4,1317.4 L871.1,1314.9 L870.8,1312.2 L870.5,1309.4 L870.1,1306.5 L869.7,1303.7 L869.3,1300.9 L869.0,1298.2 L868.6,1295.6 L868.2,1293.1 L867.9,1290.9 L867.6,1288.9 L867.3,1287.2 L867.1,1285.8 L866.9,1285.3 L866.4,1284.9 L865.9,1284.8 L865.4,1285.0 L865.0,1285.5Z" fill="#fff"/>
<path d="M1177.9,1286.9 L1177.7,1288.7 L1177.4,1290.8 L1177.1,1293.3 L1176.8,1296.1 L1176.4,1299.2 L1176.1,1302.4 L1175.7,1305.9 L1175.3,1309.4 L1174.9,1313.0 L1174.6,1316.5 L1174.2,1320.1 L1173.9,1323.5 L1173.6,1326.8 L1173.3,1329.9 L1173.1,1332.8 L1173.0,1335.7 L1172.8,1338.6 L1172.7,1341.5 L1172.6,1344.3 L1172.5,1347.1 L1172.4,1350.0 L1172.3,1352.8 L1172.2,1355.6 L1172.1,1358.4 L1172.1,1361.3 L1172.0,1364.1 L1171.9,1367.0 L1171.8,1369.9 L1171.8,1373.0 L1171.7,1376.3 L1171.7,1379.7 L1171.7,1383.2 L1171.7,1386.7 L1171.7,1390.2 L1171.6,1393.7 L1171.6,1397.1 L1171.6,1400.3 L1171.6,1403.3 L1171.6,1406.1 L1171.6,1408.6 L1171.7,1410.7 L1171.7,1412.5 L1171.8,1413.1 L1172.3,1413.6 L1173.0,1413.8 L1173.6,1413.7 L1174.1,1413.2 L1174.3,1412.5 L1174.4,1410.8 L1174.5,1408.7 L1174.6,1406.2 L1174.8,1403.4 L1174.9,1400.4 L1175.0,1397.2 L1175.2,1393.8 L1175.3,1390.3 L1175.5,1386.8 L1175.6,1383.2 L1175.7,1379.8 L1175.9,1376.4 L1176.0,1373.1 L1176.2,1370.1 L1176.3,1367.1 L1176.4,1364.2 L1176.5,1361.4 L1176.5,1358.5 L1176.6,1355.7 L1176.7,1352.9 L1176.8,1350.1 L1176.9,1347.3 L1177.0,1344.5 L1177.1,1341.7 L1177.2,1338.8 L1177.4,1336.0 L1177.5,1333.1 L1177.7,1330.1 L1177.8,1327.1 L1178.0,1323.8 L1178.1,1320.4 L1178.3,1316.8 L1178.5,1313.2 L1178.8,1309.7 L1179.0,1306.1 L1179.2,1302.7 L1179.4,1299.4 L1179.6,1296.4 L1179.8,1293.5 L1179.9,1291.0 L1180.0,1288.9 L1180.1,1287.1 L1180.0,1286.5 L1179.6,1286.1 L1179.1,1285.9 L1178.5,1286.0 L1178.1,1286.4Z" fill="#fff"/>
<path d="M781.0,1426.4 L781.4,1428.2 L781.8,1430.2 L782.4,1432.6 L783.0,1435.3 L783.6,1438.2 L784.4,1441.4 L785.1,1444.6 L785.9,1448.1 L786.7,1451.6 L787.5,1455.1 L788.3,1458.7 L789.1,1462.2 L789.8,1465.7 L790.5,1469.1 L791.2,1472.5 L792.1,1475.9 L792.9,1479.4 L793.8,1483.0 L794.7,1486.7 L795.5,1490.3 L796.4,1494.0 L797.2,1497.7 L797.9,1501.3 L798.6,1505.0 L799.2,1508.6 L799.8,1512.1 L800.2,1515.6 L800.5,1519.0 L800.7,1522.4 L800.8,1526.0 L800.7,1529.7 L800.6,1533.5 L800.4,1537.3 L800.1,1541.0 L799.8,1544.7 L799.5,1548.3 L799.1,1551.7 L798.8,1554.9 L798.5,1557.8 L798.2,1560.4 L798.0,1562.7 L797.9,1564.6 L798.1,1565.8 L798.9,1566.7 L800.0,1567.1 L801.2,1566.9 L802.1,1566.1 L802.5,1565.0 L802.7,1563.2 L802.9,1560.9 L803.2,1558.3 L803.6,1555.4 L804.0,1552.2 L804.4,1548.8 L804.7,1545.2 L805.1,1541.4 L805.4,1537.6 L805.7,1533.7 L805.8,1529.8 L805.9,1526.0 L805.9,1522.2 L805.7,1518.6 L805.4,1515.0 L804.9,1511.4 L804.4,1507.8 L803.7,1504.0 L803.0,1500.3 L802.3,1496.6 L801.4,1492.9 L800.6,1489.1 L799.7,1485.5 L798.8,1481.8 L798.0,1478.2 L797.1,1474.7 L796.3,1471.3 L795.5,1467.9 L794.7,1464.6 L793.8,1461.1 L792.8,1457.6 L791.8,1454.0 L790.9,1450.5 L789.9,1447.0 L788.9,1443.7 L788.0,1440.4 L787.1,1437.3 L786.2,1434.5 L785.4,1431.8 L784.7,1429.5 L784.1,1427.5 L783.6,1425.8 L783.2,1425.2 L782.7,1424.8 L782.0,1424.8 L781.4,1425.2 L781.0,1425.7Z" fill="#fff"/>
<path d="M1206.1,1419.5 L1205.8,1420.9 L1205.3,1422.6 L1204.8,1424.6 L1204.3,1426.9 L1203.7,1429.3 L1203.0,1432.0 L1202.3,1434.7 L1201.7,1437.6 L1201.0,1440.5 L1200.4,1443.5 L1199.8,1446.4 L1199.3,1449.3 L1198.8,1452.0 L1198.4,1454.7 L1198.1,1457.2 L1197.9,1459.7 L1197.6,1462.3 L1197.4,1464.8 L1197.2,1467.3 L1197.1,1469.9 L1197.0,1472.4 L1196.9,1475.0 L1196.9,1477.5 L1196.9,1480.0 L1197.0,1482.6 L1197.1,1485.1 L1197.2,1487.7 L1197.4,1490.2 L1197.7,1492.8 L1198.0,1495.4 L1198.5,1498.1 L1199.0,1500.7 L1199.5,1503.3 L1200.1,1505.9 L1200.7,1508.5 L1201.3,1511.0 L1201.9,1513.5 L1202.5,1516.0 L1203.0,1518.5 L1203.6,1520.8 L1204.0,1523.2 L1204.4,1525.4 L1204.8,1527.7 L1205.2,1530.1 L1205.6,1532.5 L1205.9,1534.9 L1206.3,1537.3 L1206.6,1539.6 L1206.9,1541.9 L1207.1,1544.2 L1207.4,1546.3 L1207.6,1548.2 L1207.9,1550.0 L1208.1,1551.7 L1208.3,1553.1 L1208.4,1554.2 L1208.8,1555.2 L1209.7,1555.9 L1210.7,1556.1 L1211.7,1555.7 L1212.4,1554.8 L1212.6,1553.8 L1212.5,1552.6 L1212.4,1551.2 L1212.2,1549.6 L1212.1,1547.8 L1211.9,1545.8 L1211.7,1543.7 L1211.5,1541.4 L1211.3,1539.1 L1211.0,1536.7 L1210.8,1534.3 L1210.5,1531.8 L1210.2,1529.4 L1209.9,1526.9 L1209.6,1524.6 L1209.1,1522.2 L1208.7,1519.8 L1208.1,1517.3 L1207.6,1514.8 L1207.0,1512.3 L1206.4,1509.8 L1205.7,1507.3 L1205.2,1504.7 L1204.6,1502.2 L1204.1,1499.7 L1203.6,1497.2 L1203.2,1494.7 L1202.8,1492.2 L1202.6,1489.8 L1202.4,1487.3 L1202.3,1484.9 L1202.2,1482.4 L1202.1,1480.0 L1202.1,1477.5 L1202.1,1475.0 L1202.2,1472.6 L1202.3,1470.1 L1202.4,1467.7 L1202.6,1465.2 L1202.8,1462.7 L1203.0,1460.3 L1203.3,1457.8 L1203.6,1455.3 L1203.9,1452.8 L1204.3,1450.1 L1204.8,1447.4 L1205.4,1444.5 L1206.0,1441.6 L1206.6,1438.7 L1207.3,1435.9 L1207.9,1433.1 L1208.6,1430.5 L1209.1,1428.0 L1209.7,1425.8 L1210.2,1423.7 L1210.6,1422.0 L1210.9,1420.5 L1210.9,1419.3 L1210.2,1418.2 L1209.0,1417.6 L1207.8,1417.6 L1206.7,1418.3Z" fill="#fff"/>
<path d="M413.0,1783.0 L423.1,1782.9 L435.2,1782.8 L449.2,1782.7 L464.8,1782.6 L481.8,1782.5 L500.0,1782.3 L519.3,1782.2 L539.3,1782.1 L560.0,1781.9 L581.0,1781.8 L602.2,1781.7 L623.4,1781.6 L644.4,1781.5 L665.0,1781.5 L685.8,1781.5 L707.5,1781.5 L730.0,1781.5 L753.1,1781.5 L776.6,1781.5 L800.3,1781.6 L824.2,1781.6 L848.1,1781.7 L871.7,1781.7 L895.0,1781.8 L917.7,1781.9 L939.7,1781.9 L960.8,1782.0 L981.0,1782.0 L1000.4,1782.1 L1019.6,1782.1 L1038.4,1782.3 L1056.8,1782.4 L1074.8,1782.5 L1092.4,1782.6 L1109.5,1782.7 L1126.1,1782.8 L1142.2,1782.9 L1157.7,1783.0 L1172.5,1782.9 L1186.7,1782.9 L1200.3,1782.8 L1213.0,1782.6 L1224.9,1782.4 L1235.6,1782.1 L1245.5,1781.9 L1254.5,1781.5 L1262.9,1781.2 L1270.6,1780.8 L1278.0,1780.4 L1285.1,1779.9 L1292.0,1779.4 L1298.8,1778.8 L1305.7,1778.3 L1312.9,1777.6 L1320.3,1777.0 L1328.2,1776.3 L1336.5,1775.6 L1345.0,1774.8 L1353.6,1774.0 L1362.2,1773.1 L1370.8,1772.1 L1379.5,1771.2 L1388.1,1770.2 L1396.5,1769.2 L1404.9,1768.2 L1413.0,1767.1 L1421.0,1766.1 L1428.6,1765.1 L1436.0,1764.1 L1443.0,1763.2 L1449.7,1762.3 L1456.2,1761.4 L1462.4,1760.5 L1468.3,1759.6 L1474.1,1758.7 L1479.6,1757.8 L1485.0,1756.9 L1490.3,1756.0 L1495.4,1755.1 L1500.4,1754.3 L1505.3,1753.4 L1510.2,1752.5 L1515.0,1751.7 L1519.8,1750.8 L1524.6,1750.0 L1529.3,1749.2 L1533.9,1748.4 L1538.4,1747.5 L1542.8,1746.7 L1547.1,1745.9 L1551.3,1745.1 L1555.4,1744.3 L1559.4,1743.5 L1563.3,1742.8 L1567.0,1742.1 L1570.7,1741.4 L1574.2,1740.7 L1577.6,1740.1 L1580.8,1739.5 L1584.0,1739.0 L1587.0,1738.4 L1589.9,1737.9 L1592.6,1737.4 L1595.3,1737.0 L1597.8,1736.5 L1600.2,1736.1 L1602.6,1735.7 L1604.9,1735.3 L1607.1,1735.0 L1609.2,1734.7 L1611.2,1734.4 L1613.2,1734.1 L1615.1,1733.6 L1616.9,1733.1 L1618.7,1732.7 L1620.4,1732.3 L1622.0,1731.9 L1623.5,1731.5 L1625.0,1731.2 L1626.4,1730.8 L1627.7,1730.5 L1628.9,1730.2 L1630.0,1729.9 L1631.0,1729.6 L1631.9,1729.4 L1632.7,1729.1 L1634.9,1728.1 L1636.4,1726.2 L1636.7,1723.7 L1635.7,1721.5 L1633.8,1720.0 L1631.3,1719.7 L1630.6,1719.6 L1629.7,1719.6 L1628.7,1719.6 L1627.5,1719.6 L1626.3,1719.6 L1624.9,1719.6 L1623.5,1719.6 L1621.9,1719.7 L1620.2,1719.8 L1618.5,1719.9 L1616.7,1720.0 L1614.8,1720.1 L1612.8,1720.3 L1610.8,1720.5 L1608.7,1721.0 L1606.7,1721.4 L1604.5,1721.9 L1602.3,1722.5 L1600.1,1723.0 L1597.7,1723.5 L1595.3,1724.1 L1592.7,1724.7 L1590.1,1725.4 L1587.4,1726.0 L1584.5,1726.7 L1581.6,1727.4 L1578.5,1728.1 L1575.2,1728.9 L1571.8,1729.7 L1568.3,1730.6 L1564.7,1731.5 L1561.0,1732.4 L1557.2,1733.4 L1553.2,1734.3 L1549.2,1735.4 L1545.0,1736.4 L1540.8,1737.4 L1536.5,1738.4 L1532.0,1739.5 L1527.5,1740.5 L1522.9,1741.6 L1518.2,1742.6 L1513.4,1743.6 L1508.6,1744.6 L1503.8,1745.6 L1498.9,1746.6 L1494.0,1747.7 L1488.9,1748.7 L1483.7,1749.7 L1478.4,1750.8 L1472.9,1751.8 L1467.2,1752.9 L1461.3,1753.9 L1455.2,1755.0 L1448.8,1756.0 L1442.2,1757.0 L1435.2,1758.0 L1427.8,1759.0 L1420.2,1760.1 L1412.3,1761.2 L1404.1,1762.2 L1395.8,1763.3 L1387.4,1764.3 L1378.8,1765.4 L1370.2,1766.4 L1361.6,1767.3 L1353.0,1768.3 L1344.5,1769.1 L1336.0,1770.0 L1327.8,1770.7 L1319.8,1771.4 L1312.4,1772.0 L1305.3,1772.6 L1298.4,1773.1 L1291.5,1773.6 L1284.7,1774.1 L1277.7,1774.6 L1270.3,1775.0 L1262.6,1775.3 L1254.3,1775.7 L1245.3,1775.9 L1235.5,1776.2 L1224.8,1776.4 L1213.0,1776.6 L1200.2,1776.7 L1186.7,1776.7 L1172.5,1776.7 L1157.7,1776.7 L1142.2,1776.6 L1126.2,1776.4 L1109.6,1776.2 L1092.5,1776.1 L1074.9,1775.9 L1056.8,1775.7 L1038.4,1775.5 L1019.6,1775.3 L1000.5,1775.1 L981.0,1775.0 L960.9,1774.9 L939.7,1774.8 L917.7,1774.6 L895.0,1774.5 L871.7,1774.4 L848.1,1774.2 L824.3,1774.1 L800.4,1774.0 L776.6,1773.9 L753.1,1773.8 L730.0,1773.7 L707.5,1773.6 L685.8,1773.5 L665.0,1773.5 L644.4,1773.5 L623.4,1773.5 L602.2,1773.5 L581.0,1773.5 L559.9,1773.6 L539.3,1773.6 L519.2,1773.7 L500.0,1773.8 L481.8,1773.8 L464.7,1773.9 L449.2,1773.9 L435.2,1774.0 L423.1,1774.0 L413.0,1774.0 L410.7,1774.6 L409.1,1776.3 L408.5,1778.5 L409.1,1780.8 L410.8,1782.4Z" fill="#fff"/>
<path d="M709.2,1599.4 L708.9,1601.4 L708.6,1603.9 L708.3,1606.7 L707.9,1609.8 L707.6,1613.3 L707.2,1617.0 L706.9,1620.9 L706.5,1624.9 L706.1,1629.0 L705.8,1633.3 L705.4,1637.5 L705.1,1641.7 L704.8,1645.9 L704.5,1649.9 L704.4,1654.0 L704.4,1658.1 L704.3,1662.4 L704.3,1666.7 L704.3,1671.1 L704.3,1675.6 L704.3,1680.0 L704.3,1684.5 L704.3,1688.9 L704.3,1693.3 L704.4,1697.7 L704.4,1701.9 L704.4,1706.1 L704.5,1710.1 L704.7,1714.1 L704.9,1718.2 L705.1,1722.4 L705.4,1726.6 L705.6,1730.8 L705.9,1734.9 L706.2,1738.9 L706.4,1742.7 L706.7,1746.4 L706.9,1749.8 L707.2,1752.9 L707.4,1755.7 L707.6,1758.1 L707.8,1760.1 L708.2,1761.4 L709.2,1762.4 L710.6,1762.7 L711.9,1762.3 L712.9,1761.3 L713.2,1759.9 L713.3,1757.9 L713.3,1755.5 L713.3,1752.7 L713.3,1749.5 L713.4,1746.1 L713.4,1742.5 L713.3,1738.6 L713.3,1734.6 L713.3,1730.5 L713.3,1726.4 L713.4,1722.2 L713.4,1718.0 L713.4,1713.9 L713.5,1709.9 L713.4,1705.9 L713.4,1701.8 L713.4,1697.6 L713.3,1693.3 L713.3,1688.9 L713.3,1684.5 L713.3,1680.0 L713.3,1675.6 L713.3,1671.2 L713.3,1666.8 L713.3,1662.4 L713.4,1658.2 L713.4,1654.1 L713.5,1650.1 L713.4,1646.1 L713.3,1642.0 L713.3,1637.8 L713.2,1633.5 L713.2,1629.3 L713.2,1625.2 L713.1,1621.1 L713.1,1617.2 L713.1,1613.6 L713.1,1610.1 L713.0,1606.9 L713.0,1604.1 L712.9,1601.6 L712.8,1599.6 L712.6,1598.7 L712.0,1598.0 L711.1,1597.7 L710.2,1597.9 L709.5,1598.5Z" fill="#fff"/>
<path d="M988.8,1599.4 L988.5,1601.4 L988.2,1603.9 L987.9,1606.7 L987.6,1609.9 L987.3,1613.3 L986.9,1617.0 L986.6,1620.9 L986.2,1624.9 L985.8,1629.1 L985.5,1633.3 L985.2,1637.5 L984.8,1641.7 L984.5,1645.9 L984.3,1649.9 L984.2,1653.9 L984.1,1658.0 L984.0,1662.3 L984.0,1666.6 L983.9,1670.9 L983.9,1675.3 L983.8,1679.7 L983.8,1684.2 L983.8,1688.6 L983.7,1693.0 L983.7,1697.4 L983.7,1701.7 L983.7,1705.9 L983.8,1710.0 L983.9,1714.2 L984.1,1718.5 L984.2,1723.0 L984.4,1727.5 L984.6,1732.0 L984.9,1736.5 L985.1,1740.8 L985.3,1745.0 L985.5,1749.0 L985.7,1752.8 L985.9,1756.2 L986.1,1759.2 L986.3,1761.9 L986.5,1764.1 L986.8,1765.3 L987.8,1766.2 L989.1,1766.5 L990.3,1766.2 L991.2,1765.2 L991.5,1763.9 L991.6,1761.8 L991.7,1759.1 L991.7,1756.0 L991.8,1752.6 L991.8,1748.9 L991.8,1744.9 L991.9,1740.7 L991.9,1736.3 L991.9,1731.9 L992.0,1727.4 L992.0,1722.9 L992.1,1718.5 L992.2,1714.1 L992.2,1710.0 L992.2,1705.9 L992.2,1701.7 L992.2,1697.4 L992.2,1693.0 L992.3,1688.6 L992.3,1684.2 L992.3,1679.8 L992.4,1675.4 L992.4,1671.0 L992.5,1666.7 L992.5,1662.4 L992.6,1658.2 L992.7,1654.1 L992.7,1650.1 L992.7,1646.1 L992.6,1642.0 L992.6,1637.8 L992.5,1633.5 L992.5,1629.3 L992.5,1625.2 L992.5,1621.1 L992.5,1617.2 L992.5,1613.5 L992.5,1610.1 L992.4,1606.9 L992.4,1604.1 L992.3,1601.6 L992.2,1599.6 L992.0,1598.7 L991.4,1598.1 L990.6,1597.8 L989.7,1598.0 L989.1,1598.6Z" fill="#fff"/>
<path d="M1287.8,1593.9 L1287.5,1596.1 L1287.1,1598.9 L1286.7,1602.1 L1286.2,1605.6 L1285.8,1609.5 L1285.3,1613.7 L1284.7,1618.0 L1284.2,1622.6 L1283.7,1627.2 L1283.2,1631.8 L1282.7,1636.5 L1282.2,1641.1 L1281.8,1645.5 L1281.4,1649.8 L1281.1,1654.0 L1280.9,1658.3 L1280.7,1662.6 L1280.5,1667.0 L1280.4,1671.4 L1280.2,1675.8 L1280.0,1680.3 L1279.9,1684.7 L1279.7,1689.0 L1279.6,1693.4 L1279.5,1697.6 L1279.4,1701.8 L1279.2,1705.9 L1279.2,1709.9 L1279.2,1713.9 L1279.2,1718.0 L1279.2,1722.2 L1279.3,1726.3 L1279.3,1730.5 L1279.4,1734.5 L1279.5,1738.5 L1279.6,1742.3 L1279.7,1745.9 L1279.7,1749.3 L1279.8,1752.4 L1279.9,1755.1 L1280.0,1757.5 L1280.1,1759.5 L1280.5,1760.9 L1281.5,1762.0 L1283.0,1762.4 L1284.4,1762.0 L1285.5,1761.0 L1285.9,1759.5 L1286.0,1757.5 L1286.1,1755.1 L1286.2,1752.4 L1286.3,1749.3 L1286.4,1745.9 L1286.4,1742.3 L1286.5,1738.5 L1286.6,1734.6 L1286.7,1730.5 L1286.9,1726.4 L1287.0,1722.2 L1287.1,1718.1 L1287.3,1714.0 L1287.4,1710.1 L1287.5,1706.1 L1287.6,1702.1 L1287.8,1697.9 L1287.9,1693.6 L1288.0,1689.3 L1288.2,1685.0 L1288.3,1680.6 L1288.5,1676.1 L1288.7,1671.7 L1288.8,1667.3 L1289.0,1663.0 L1289.2,1658.6 L1289.4,1654.4 L1289.6,1650.2 L1289.7,1646.0 L1289.8,1641.5 L1289.9,1637.0 L1290.1,1632.3 L1290.2,1627.6 L1290.4,1623.0 L1290.5,1618.5 L1290.7,1614.1 L1290.8,1609.9 L1291.0,1606.0 L1291.1,1602.4 L1291.1,1599.2 L1291.2,1596.4 L1291.2,1594.1 L1291.0,1593.3 L1290.4,1592.6 L1289.6,1592.3 L1288.8,1592.5 L1288.1,1593.1Z" fill="#fff"/>
<path d="M839.8,1788.4 L839.6,1790.1 L839.4,1792.2 L839.1,1794.7 L838.9,1797.4 L838.6,1800.4 L838.3,1803.6 L838.0,1807.0 L837.7,1810.4 L837.4,1813.8 L837.1,1817.3 L836.9,1820.7 L836.6,1823.9 L836.3,1827.0 L836.0,1829.8 L835.9,1832.6 L835.7,1835.2 L835.5,1837.9 L835.4,1840.5 L835.2,1843.1 L835.1,1845.7 L834.9,1848.2 L834.8,1850.7 L834.6,1853.2 L834.5,1855.6 L834.3,1858.0 L834.2,1860.3 L834.1,1862.6 L834.0,1864.9 L834.0,1867.1 L833.9,1869.4 L833.9,1871.7 L833.9,1874.0 L833.9,1876.3 L833.9,1878.5 L833.9,1880.7 L833.9,1882.7 L834.0,1884.7 L834.0,1886.5 L834.0,1888.1 L834.0,1889.6 L834.1,1890.9 L834.1,1892.0 L834.4,1893.2 L835.3,1894.1 L836.5,1894.4 L837.7,1894.1 L838.6,1893.2 L838.9,1892.0 L839.0,1891.0 L839.0,1889.7 L839.1,1888.2 L839.1,1886.5 L839.2,1884.7 L839.3,1882.8 L839.3,1880.7 L839.4,1878.6 L839.5,1876.4 L839.6,1874.1 L839.7,1871.9 L839.8,1869.6 L839.9,1867.3 L840.0,1865.1 L840.1,1862.9 L840.2,1860.6 L840.3,1858.3 L840.5,1855.9 L840.6,1853.5 L840.7,1851.1 L840.9,1848.6 L841.1,1846.1 L841.2,1843.5 L841.4,1840.9 L841.5,1838.3 L841.7,1835.6 L841.8,1832.9 L842.0,1830.2 L842.0,1827.3 L842.0,1824.2 L842.1,1820.9 L842.1,1817.5 L842.2,1814.1 L842.2,1810.6 L842.2,1807.2 L842.3,1803.8 L842.3,1800.6 L842.3,1797.6 L842.3,1794.8 L842.3,1792.4 L842.2,1790.3 L842.2,1788.6 L842.1,1788.0 L841.6,1787.5 L841.1,1787.3 L840.5,1787.4 L840.0,1787.9Z" fill="#fff"/>
<path d="M1202.1,1786.4 L1201.9,1788.6 L1201.7,1791.2 L1201.5,1794.4 L1201.2,1797.9 L1200.9,1801.7 L1200.7,1805.8 L1200.4,1810.0 L1200.1,1814.4 L1199.9,1818.7 L1199.6,1823.0 L1199.4,1827.1 L1199.2,1831.1 L1199.1,1834.7 L1199.0,1838.0 L1199.1,1841.1 L1199.2,1843.9 L1199.3,1846.7 L1199.5,1849.4 L1199.6,1851.9 L1199.9,1854.4 L1200.1,1856.7 L1200.3,1859.1 L1200.6,1861.3 L1200.8,1863.5 L1201.1,1865.7 L1201.3,1867.9 L1201.5,1870.1 L1201.7,1872.3 L1202.0,1874.5 L1202.2,1876.8 L1202.5,1879.2 L1202.7,1881.5 L1203.0,1883.9 L1203.3,1886.1 L1203.6,1888.4 L1203.8,1890.5 L1204.1,1892.6 L1204.3,1894.5 L1204.5,1896.2 L1204.7,1897.8 L1204.9,1899.1 L1205.1,1900.2 L1205.5,1901.3 L1206.4,1902.0 L1207.5,1902.2 L1208.6,1901.8 L1209.3,1900.9 L1209.5,1899.8 L1209.5,1898.6 L1209.4,1897.3 L1209.2,1895.7 L1209.1,1894.0 L1208.9,1892.1 L1208.8,1890.0 L1208.6,1887.9 L1208.4,1885.6 L1208.2,1883.3 L1208.0,1881.0 L1207.8,1878.6 L1207.6,1876.3 L1207.5,1874.0 L1207.3,1871.7 L1207.1,1869.5 L1206.9,1867.3 L1206.6,1865.1 L1206.4,1862.9 L1206.1,1860.7 L1205.9,1858.5 L1205.7,1856.2 L1205.4,1853.9 L1205.2,1851.5 L1205.0,1849.0 L1204.9,1846.4 L1204.8,1843.7 L1204.7,1840.9 L1204.6,1838.0 L1204.5,1834.7 L1204.4,1831.2 L1204.4,1827.3 L1204.4,1823.1 L1204.5,1818.9 L1204.5,1814.5 L1204.6,1810.2 L1204.7,1806.0 L1204.7,1801.9 L1204.8,1798.1 L1204.9,1794.5 L1204.9,1791.4 L1204.9,1788.7 L1204.9,1786.6 L1204.7,1785.8 L1204.2,1785.3 L1203.6,1785.1 L1202.8,1785.3 L1202.3,1785.8Z" fill="#fff"/>
<text x="769.0" y="576.0" font-family="'DejaVu Sans','Liberation Sans',sans-serif" font-size="50" font-weight="700" font-style="normal" fill="#000" textLength="511.5" lengthAdjust="spacingAndGlyphs" >APPRENTISSAGES</text>
<text x="863.5" y="641.7" font-family="'DejaVu Sans','Liberation Sans',sans-serif" font-size="50" font-weight="700" font-style="normal" fill="#000" textLength="321.0" lengthAdjust="spacingAndGlyphs" >SCOLAIRES</text>
<text x="650.0" y="797.7" font-family="'DejaVu Sans','Liberation Sans',sans-serif" font-size="37" font-weight="400" font-style="normal" fill="#000" textLength="323.5" lengthAdjust="spacingAndGlyphs"  stroke="#000" stroke-width="1.11" stroke-linejoin="round">Activités de la Vie</text>
<text x="702.5" y="841.0" font-family="'DejaVu Sans','Liberation Sans',sans-serif" font-size="37" font-weight="400" font-style="normal" fill="#000" textLength="218.5" lengthAdjust="spacingAndGlyphs"  stroke="#000" stroke-width="1.11" stroke-linejoin="round">Quotidienne</text>
<text x="1125.5" y="819.7" font-family="'DejaVu Sans','Liberation Sans',sans-serif" font-size="37" font-weight="400" font-style="normal" fill="#000" textLength="276.5" lengthAdjust="spacingAndGlyphs"  stroke="#000" stroke-width="1.11" stroke-linejoin="round">Comportement</text>
<text x="653.5" y="1007.0" font-family="'DejaVu Sans','Liberation Sans',sans-serif" font-size="36" font-weight="400" font-style="normal" fill="#0b0b0b" textLength="116.5" lengthAdjust="spacingAndGlyphs"  stroke="#0b0b0b" stroke-width="1.08" stroke-linejoin="round">Auditif</text>
<text x="637.5" y="1048.0" font-family="'DejaVu Sans','Liberation Sans',sans-serif" font-size="36" font-weight="400" font-style="normal" fill="#0b0b0b" textLength="148.5" lengthAdjust="spacingAndGlyphs"  stroke="#0b0b0b" stroke-width="1.08" stroke-linejoin="round">Langage</text>
<text x="930.5" y="1007.0" font-family="'DejaVu Sans','Liberation Sans',sans-serif" font-size="36" font-weight="400" font-style="normal" fill="#0b0b0b" textLength="187.5" lengthAdjust="spacingAndGlyphs"  stroke="#0b0b0b" stroke-width="1.08" stroke-linejoin="round">Perception</text>
<text x="915.0" y="1048.0" font-family="'DejaVu Sans','Liberation Sans',sans-serif" font-size="36" font-weight="400" font-style="normal" fill="#0b0b0b" textLength="218.5" lengthAdjust="spacingAndGlyphs"  stroke="#0b0b0b" stroke-width="1.08" stroke-linejoin="round">Visiospatiale</text>
<text x="1238.0" y="987.5" font-family="'DejaVu Sans','Liberation Sans',sans-serif" font-size="36" font-weight="400" font-style="normal" fill="#0b0b0b" textLength="226.0" lengthAdjust="spacingAndGlyphs"  stroke="#0b0b0b" stroke-width="1.08" stroke-linejoin="round">Fonctions du</text>
<text x="1266.5" y="1027.5" font-family="'DejaVu Sans','Liberation Sans',sans-serif" font-size="36" font-weight="400" font-style="normal" fill="#0b0b0b" textLength="168.0" lengthAdjust="spacingAndGlyphs"  stroke="#0b0b0b" stroke-width="1.08" stroke-linejoin="round">Centre de</text>
<text x="1261.5" y="1067.7" font-family="'DejaVu Sans','Liberation Sans',sans-serif" font-size="36" font-weight="400" font-style="normal" fill="#0b0b0b" textLength="179.5" lengthAdjust="spacingAndGlyphs"  stroke="#0b0b0b" stroke-width="1.08" stroke-linejoin="round">l’Attention</text>
<text x="600.0" y="1174.0" font-family="'DejaVu Sans','Liberation Sans',sans-serif" font-size="36" font-weight="400" font-style="normal" fill="#0b0b0b" textLength="224.5" lengthAdjust="spacingAndGlyphs"  stroke="#0b0b0b" stroke-width="1.08" stroke-linejoin="round">Coordination</text>
<text x="631.0" y="1214.4" font-family="'DejaVu Sans','Liberation Sans',sans-serif" font-size="36" font-weight="400" font-style="normal" fill="#0b0b0b" textLength="161.5" lengthAdjust="spacingAndGlyphs"  stroke="#0b0b0b" stroke-width="1.08" stroke-linejoin="round">Oeil-Main</text>
<text x="950.0" y="1174.0" font-family="'DejaVu Sans','Liberation Sans',sans-serif" font-size="36" font-weight="400" font-style="normal" fill="#0b0b0b" textLength="147.5" lengthAdjust="spacingAndGlyphs"  stroke="#0b0b0b" stroke-width="1.08" stroke-linejoin="round">Contrôle</text>
<text x="905.5" y="1214.4" font-family="'DejaVu Sans','Liberation Sans',sans-serif" font-size="36" font-weight="400" font-style="normal" fill="#0b0b0b" textLength="238.0" lengthAdjust="spacingAndGlyphs"  stroke="#0b0b0b" stroke-width="1.08" stroke-linejoin="round">Oculo-Moteur</text>
<text x="1264.5" y="1174.0" font-family="'DejaVu Sans','Liberation Sans',sans-serif" font-size="36" font-weight="400" font-style="normal" fill="#0b0b0b" textLength="199.5" lengthAdjust="spacingAndGlyphs"  stroke="#0b0b0b" stroke-width="1.08" stroke-linejoin="round">Ajustement</text>
<text x="1292.0" y="1214.4" font-family="'DejaVu Sans','Liberation Sans',sans-serif" font-size="36" font-weight="400" font-style="normal" fill="#0b0b0b" textLength="143.5" lengthAdjust="spacingAndGlyphs"  stroke="#0b0b0b" stroke-width="1.08" stroke-linejoin="round">Posturel</text>
<text x="528.0" y="1352.5" font-family="'DejaVu Sans','Liberation Sans',sans-serif" font-size="36" font-weight="400" font-style="normal" fill="#0b0b0b" textLength="295.0" lengthAdjust="spacingAndGlyphs"  stroke="#0b0b0b" stroke-width="1.08" stroke-linejoin="round">Schéma corporel</text>
<text x="947.0" y="1336.3" font-family="'DejaVu Sans','Liberation Sans',sans-serif" font-size="36" font-weight="400" font-style="normal" fill="#0b0b0b" textLength="153.5" lengthAdjust="spacingAndGlyphs"  stroke="#0b0b0b" stroke-width="1.08" stroke-linejoin="round">Motricité</text>
<text x="961.0" y="1377.3" font-family="'DejaVu Sans','Liberation Sans',sans-serif" font-size="36" font-weight="400" font-style="normal" fill="#0b0b0b" textLength="126.0" lengthAdjust="spacingAndGlyphs"  stroke="#0b0b0b" stroke-width="1.08" stroke-linejoin="round">Réflexe</text>
<text x="1230.0" y="1336.3" font-family="'DejaVu Sans','Liberation Sans',sans-serif" font-size="36" font-weight="400" font-style="normal" fill="#0b0b0b" textLength="229.5" lengthAdjust="spacingAndGlyphs"  stroke="#0b0b0b" stroke-width="1.08" stroke-linejoin="round">Filtration des</text>
<text x="1274.5" y="1377.3" font-family="'DejaVu Sans','Liberation Sans',sans-serif" font-size="36" font-weight="400" font-style="normal" fill="#0b0b0b" textLength="139.0" lengthAdjust="spacingAndGlyphs"  stroke="#0b0b0b" stroke-width="1.08" stroke-linejoin="round">Stimulis</text>
<text x="579.0" y="1494.0" font-family="'DejaVu Sans','Liberation Sans',sans-serif" font-size="36" font-weight="400" font-style="normal" fill="#0b0b0b" textLength="143.0" lengthAdjust="spacingAndGlyphs"  stroke="#0b0b0b" stroke-width="1.08" stroke-linejoin="round">Sécurité</text>
<text x="568.5" y="1534.3" font-family="'DejaVu Sans','Liberation Sans',sans-serif" font-size="36" font-weight="400" font-style="normal" fill="#0b0b0b" textLength="163.5" lengthAdjust="spacingAndGlyphs"  stroke="#0b0b0b" stroke-width="1.08" stroke-linejoin="round">Posturale</text>
<text x="889.0" y="1488.3" font-family="'DejaVu Sans','Liberation Sans',sans-serif" font-size="36" font-weight="400" font-style="normal" fill="#0b0b0b" textLength="268.5" lengthAdjust="spacingAndGlyphs"  stroke="#0b0b0b" stroke-width="1.08" stroke-linejoin="round">Conscience des</text>
<text x="879.5" y="1528.0" font-family="'DejaVu Sans','Liberation Sans',sans-serif" font-size="36" font-weight="400" font-style="normal" fill="#0b0b0b" textLength="289.0" lengthAdjust="spacingAndGlyphs"  stroke="#0b0b0b" stroke-width="1.08" stroke-linejoin="round">2 côtés du corps</text>
<text x="1242.5" y="1488.3" font-family="'DejaVu Sans','Liberation Sans',sans-serif" font-size="36" font-weight="400" font-style="normal" fill="#0b0b0b" textLength="293.5" lengthAdjust="spacingAndGlyphs"  stroke="#0b0b0b" stroke-width="1.08" stroke-linejoin="round">Capacité à filtrer</text>
<text x="1292.0" y="1528.0" font-family="'DejaVu Sans','Liberation Sans',sans-serif" font-size="36" font-weight="400" font-style="normal" fill="#0b0b0b" textLength="194.5" lengthAdjust="spacingAndGlyphs"  stroke="#0b0b0b" stroke-width="1.08" stroke-linejoin="round">les stimulis</text>
<text x="517.0" y="1694.0" font-family="'DejaVu Sans','Liberation Sans',sans-serif" font-size="46" font-weight="400" font-style="normal" fill="#0b0b0b" textLength="132.5" lengthAdjust="spacingAndGlyphs"  stroke="#0b0b0b" stroke-width="1.38" stroke-linejoin="round">Visuel</text>
<text x="775.5" y="1694.0" font-family="'DejaVu Sans','Liberation Sans',sans-serif" font-size="46" font-weight="400" font-style="normal" fill="#0b0b0b" textLength="150.0" lengthAdjust="spacingAndGlyphs"  stroke="#0b0b0b" stroke-width="1.38" stroke-linejoin="round">Auditif</text>
<text x="1051.5" y="1694.0" font-family="'DejaVu Sans','Liberation Sans',sans-serif" font-size="46" font-weight="400" font-style="normal" fill="#0b0b0b" textLength="169.5" lengthAdjust="spacingAndGlyphs"  stroke="#0b0b0b" stroke-width="1.38" stroke-linejoin="round">Olfactif</text>
<text x="1349.0" y="1694.0" font-family="'DejaVu Sans','Liberation Sans',sans-serif" font-size="46" font-weight="400" font-style="normal" fill="#0b0b0b" textLength="181.0" lengthAdjust="spacingAndGlyphs"  stroke="#0b0b0b" stroke-width="1.38" stroke-linejoin="round">Gustatif</text>
<text x="444.5" y="1859.5" font-family="'DejaVu Sans','Liberation Sans',sans-serif" font-size="46" font-weight="400" font-style="normal" fill="#0b0b0b" textLength="329.5" lengthAdjust="spacingAndGlyphs"  stroke="#0b0b0b" stroke-width="1.38" stroke-linejoin="round">Proprioception</text>
<text x="951.0" y="1859.5" font-family="'DejaVu Sans','Liberation Sans',sans-serif" font-size="46" font-weight="400" font-style="normal" fill="#0b0b0b" textLength="146.5" lengthAdjust="spacingAndGlyphs"  stroke="#0b0b0b" stroke-width="1.38" stroke-linejoin="round">Tactile</text>
<text x="1319.5" y="1854.0" font-family="'DejaVu Sans','Liberation Sans',sans-serif" font-size="46" font-weight="400" font-style="normal" fill="#0b0b0b" textLength="262.0" lengthAdjust="spacingAndGlyphs"  stroke="#0b0b0b" stroke-width="1.38" stroke-linejoin="round">Vestibulaire</text>
<text x="618.0" y="2024.0" font-family="'DejaVu Sans','Liberation Sans',sans-serif" font-size="77" font-weight="700" font-style="normal" fill="#000" textLength="812.0" lengthAdjust="spacingAndGlyphs" >SYSTÈME NERVEUX</text>
<text x="832.0" y="2124.0" font-family="'DejaVu Sans','Liberation Sans',sans-serif" font-size="77" font-weight="700" font-style="normal" fill="#000" textLength="386.0" lengthAdjust="spacingAndGlyphs" >CENTRAL</text>
<text x="254.0" y="615.2" font-family="'DejaVu Sans','Liberation Sans',sans-serif" font-size="50.5" font-weight="400" font-style="normal" fill="#2f86a3" textLength="250.5" lengthAdjust="spacingAndGlyphs"  stroke="#2f86a3" stroke-width="1.21" stroke-linejoin="round">Cognition</text>
<text x="209.5" y="693.2" font-family="'DejaVu Sans','Liberation Sans',sans-serif" font-size="50.5" font-weight="400" font-style="normal" fill="#2f86a3" textLength="296.0" lengthAdjust="spacingAndGlyphs"  stroke="#2f86a3" stroke-width="1.21" stroke-linejoin="round">Intelligence</text>
<text x="1563.5" y="937.5" font-family="'DejaVu Sans','Liberation Sans',sans-serif" font-size="50.5" font-weight="400" font-style="normal" fill="#6fa3b2" textLength="406.5" lengthAdjust="spacingAndGlyphs"  stroke="#6fa3b2" stroke-width="1.21" stroke-linejoin="round">Développement</text>
<text x="1566.0" y="1006.5" font-family="'DejaVu Sans','Liberation Sans',sans-serif" font-size="50.5" font-weight="400" font-style="normal" fill="#6fa3b2" textLength="466.0" lengthAdjust="spacingAndGlyphs"  stroke="#6fa3b2" stroke-width="1.21" stroke-linejoin="round">perceptivomoteur</text>
<text x="36.0" y="1227.5" font-family="'DejaVu Sans','Liberation Sans',sans-serif" font-size="50.5" font-weight="400" font-style="normal" fill="#8fae9e" textLength="407.0" lengthAdjust="spacingAndGlyphs"  stroke="#8fae9e" stroke-width="1.21" stroke-linejoin="round">Développement</text>
<text x="67.0" y="1297.0" font-family="'DejaVu Sans','Liberation Sans',sans-serif" font-size="50.5" font-weight="400" font-style="normal" fill="#8fae9e" textLength="378.0" lengthAdjust="spacingAndGlyphs"  stroke="#8fae9e" stroke-width="1.21" stroke-linejoin="round">sensorimoteur</text>
<text x="1695.5" y="1620.5" font-family="'DejaVu Sans','Liberation Sans',sans-serif" font-size="50.5" font-weight="400" font-style="normal" fill="#e0ad72" textLength="255.5" lengthAdjust="spacingAndGlyphs"  stroke="#e0ad72" stroke-width="1.21" stroke-linejoin="round">Systèmes</text>
<text x="1701.5" y="1688.5" font-family="'DejaVu Sans','Liberation Sans',sans-serif" font-size="50.5" font-weight="400" font-style="normal" fill="#e0ad72" textLength="259.5" lengthAdjust="spacingAndGlyphs"  stroke="#e0ad72" stroke-width="1.21" stroke-linejoin="round">sensoriels</text>
<path d="M412.4,731.1 L412.9,731.9 L413.6,732.9 L414.4,734.1 L415.2,735.5 L416.2,737.0 L417.2,738.6 L418.3,740.3 L419.5,742.0 L420.7,743.8 L421.9,745.6 L423.2,747.4 L424.5,749.2 L425.8,750.8 L427.2,752.4 L428.5,754.0 L429.9,755.5 L431.3,757.0 L432.7,758.6 L434.2,760.1 L435.7,761.7 L437.3,763.2 L438.9,764.7 L440.5,766.2 L442.1,767.6 L443.8,769.1 L445.4,770.4 L447.1,771.8 L448.8,773.0 L450.4,774.2 L452.1,775.4 L453.8,776.5 L455.5,777.6 L457.2,778.7 L458.9,779.7 L460.7,780.7 L462.4,781.6 L464.2,782.5 L466.1,783.4 L467.9,784.2 L469.8,785.0 L471.8,785.8 L473.7,786.5 L475.8,787.2 L477.9,787.8 L480.1,788.4 L482.2,789.0 L484.5,789.5 L486.7,790.0 L489.0,790.4 L491.2,790.8 L493.5,791.2 L495.7,791.5 L497.9,791.8 L500.0,792.1 L502.1,792.3 L504.2,792.5 L506.2,792.6 L508.3,792.7 L510.3,792.7 L512.2,792.7 L514.2,792.7 L516.1,792.6 L517.9,792.4 L519.8,792.3 L521.6,792.1 L523.4,791.9 L525.1,791.8 L526.9,791.6 L528.6,791.4 L530.3,791.2 L531.9,791.1 L533.4,791.0 L534.9,790.9 L536.4,790.8 L537.9,790.7 L539.4,790.6 L540.9,790.5 L542.4,790.3 L543.9,790.1 L545.6,789.8 L547.3,789.5 L549.1,789.1 L550.9,788.7 L552.9,788.1 L555.1,787.4 L557.5,786.6 L560.1,785.6 L562.7,784.6 L565.5,783.5 L568.3,782.4 L571.1,781.2 L573.8,780.1 L576.4,778.9 L578.8,777.9 L581.1,776.9 L583.1,776.1 L584.8,775.3 L586.1,774.8 L587.4,773.8 L588.0,772.4 L587.8,770.9 L586.8,769.6 L585.4,769.0 L583.9,769.2 L582.5,769.8 L580.8,770.5 L578.7,771.3 L576.5,772.2 L574.0,773.2 L571.4,774.3 L568.7,775.4 L565.9,776.5 L563.2,777.6 L560.4,778.7 L557.8,779.6 L555.4,780.5 L553.1,781.3 L551.1,781.9 L549.3,782.4 L547.6,782.8 L546.0,783.2 L544.5,783.4 L543.0,783.7 L541.6,783.9 L540.2,784.0 L538.8,784.1 L537.4,784.2 L536.0,784.3 L534.5,784.4 L533.0,784.5 L531.4,784.6 L529.7,784.8 L528.0,784.9 L526.3,785.0 L524.5,785.2 L522.8,785.3 L521.0,785.5 L519.3,785.6 L517.5,785.7 L515.7,785.8 L513.9,785.8 L512.1,785.9 L510.3,785.8 L508.5,785.8 L506.7,785.7 L504.8,785.5 L502.9,785.3 L500.9,785.1 L498.8,784.8 L496.7,784.5 L494.6,784.1 L492.5,783.7 L490.4,783.3 L488.2,782.9 L486.1,782.4 L484.0,781.9 L482.0,781.3 L480.0,780.7 L478.1,780.1 L476.3,779.5 L474.4,778.8 L472.7,778.1 L470.9,777.4 L469.2,776.6 L467.6,775.8 L465.9,775.0 L464.3,774.1 L462.7,773.2 L461.1,772.2 L459.5,771.3 L457.9,770.2 L456.3,769.2 L454.8,768.1 L453.2,767.0 L451.7,765.8 L450.1,764.6 L448.6,763.3 L447.1,762.0 L445.5,760.6 L444.0,759.2 L442.5,757.8 L441.0,756.4 L439.6,754.9 L438.2,753.4 L436.8,751.9 L435.4,750.5 L434.1,749.0 L432.8,747.6 L431.6,746.1 L430.4,744.6 L429.2,743.0 L428.0,741.3 L426.8,739.6 L425.7,737.9 L424.6,736.2 L423.5,734.6 L422.5,733.0 L421.6,731.5 L420.7,730.1 L419.9,728.9 L419.2,727.8 L418.6,726.9 L417.2,725.6 L415.2,725.3 L413.4,725.9 L412.1,727.3 L411.8,729.3Z" fill="#2f86a3"/>
<path d="M1695.9,1038.4 L1695.6,1039.3 L1695.2,1040.3 L1694.9,1041.4 L1694.4,1042.7 L1694.0,1044.0 L1693.5,1045.5 L1693.0,1047.0 L1692.5,1048.6 L1691.9,1050.2 L1691.3,1051.7 L1690.7,1053.3 L1690.0,1054.8 L1689.3,1056.3 L1688.5,1057.7 L1687.7,1059.1 L1686.9,1060.6 L1686.0,1062.1 L1685.1,1063.6 L1684.1,1065.1 L1683.1,1066.6 L1682.1,1068.1 L1681.0,1069.6 L1679.9,1071.1 L1678.7,1072.5 L1677.5,1074.0 L1676.2,1075.4 L1675.0,1076.8 L1673.6,1078.1 L1672.2,1079.5 L1670.8,1080.8 L1669.2,1082.2 L1667.7,1083.5 L1666.0,1084.8 L1664.4,1086.1 L1662.6,1087.4 L1660.9,1088.6 L1659.1,1089.9 L1657.3,1091.1 L1655.4,1092.3 L1653.5,1093.5 L1651.6,1094.6 L1649.7,1095.8 L1647.8,1096.8 L1645.8,1097.9 L1643.8,1099.0 L1641.7,1100.0 L1639.6,1101.0 L1637.5,1102.0 L1635.3,1102.9 L1633.1,1103.9 L1630.9,1104.8 L1628.7,1105.7 L1626.5,1106.5 L1624.2,1107.3 L1622.0,1108.1 L1619.7,1108.9 L1617.4,1109.7 L1615.1,1110.4 L1612.8,1111.1 L1610.4,1111.7 L1608.1,1112.4 L1605.7,1113.0 L1603.3,1113.5 L1600.9,1114.1 L1598.5,1114.6 L1596.0,1115.1 L1593.7,1115.6 L1591.3,1116.0 L1588.9,1116.4 L1586.6,1116.8 L1584.3,1117.1 L1581.9,1117.5 L1579.3,1117.7 L1576.7,1118.0 L1574.1,1118.2 L1571.5,1118.3 L1568.9,1118.5 L1566.4,1118.6 L1564.0,1118.7 L1561.8,1118.8 L1559.7,1118.9 L1557.9,1119.0 L1556.3,1119.1 L1554.9,1119.2 L1552.8,1119.9 L1551.4,1121.5 L1551.0,1123.7 L1551.7,1125.8 L1553.3,1127.2 L1555.5,1127.6 L1556.7,1127.6 L1558.3,1127.5 L1560.1,1127.4 L1562.2,1127.3 L1564.4,1127.2 L1566.8,1127.1 L1569.4,1127.0 L1572.0,1126.8 L1574.7,1126.6 L1577.4,1126.4 L1580.1,1126.2 L1582.8,1125.9 L1585.5,1125.6 L1588.0,1125.2 L1590.4,1124.8 L1592.8,1124.3 L1595.3,1123.8 L1597.8,1123.3 L1600.2,1122.8 L1602.7,1122.2 L1605.2,1121.6 L1607.7,1120.9 L1610.2,1120.3 L1612.7,1119.6 L1615.1,1118.8 L1617.5,1118.1 L1619.9,1117.3 L1622.3,1116.5 L1624.6,1115.7 L1627.0,1114.8 L1629.3,1113.9 L1631.6,1113.0 L1633.9,1112.0 L1636.2,1111.0 L1638.5,1110.0 L1640.7,1109.0 L1642.9,1107.9 L1645.1,1106.8 L1647.2,1105.7 L1649.4,1104.6 L1651.4,1103.4 L1653.5,1102.2 L1655.5,1101.0 L1657.5,1099.8 L1659.4,1098.5 L1661.4,1097.2 L1663.3,1095.9 L1665.1,1094.6 L1667.0,1093.2 L1668.8,1091.8 L1670.5,1090.4 L1672.2,1088.9 L1673.9,1087.5 L1675.5,1086.0 L1677.1,1084.6 L1678.6,1083.1 L1680.0,1081.5 L1681.4,1080.0 L1682.8,1078.4 L1684.1,1076.8 L1685.3,1075.2 L1686.5,1073.5 L1687.6,1071.9 L1688.7,1070.3 L1689.7,1068.6 L1690.7,1067.0 L1691.7,1065.4 L1692.6,1063.8 L1693.4,1062.3 L1694.3,1060.7 L1695.1,1059.1 L1695.8,1057.4 L1696.5,1055.7 L1697.1,1053.9 L1697.7,1052.2 L1698.3,1050.5 L1698.8,1048.8 L1699.2,1047.2 L1699.6,1045.7 L1700.0,1044.3 L1700.3,1043.0 L1700.6,1041.9 L1700.9,1041.0 L1701.1,1040.2 L1701.2,1038.8 L1700.6,1037.5 L1699.4,1036.7 L1698.0,1036.6 L1696.7,1037.2Z" fill="#6fa3b2"/>
<path d="M351.6,1339.0 L352.0,1339.8 L352.4,1340.8 L353.0,1341.9 L353.6,1343.2 L354.2,1344.6 L354.9,1346.1 L355.7,1347.7 L356.5,1349.4 L357.3,1351.0 L358.2,1352.7 L359.1,1354.4 L360.0,1356.0 L361.0,1357.6 L361.9,1359.1 L362.8,1360.5 L363.8,1361.9 L364.8,1363.3 L365.9,1364.8 L367.0,1366.2 L368.1,1367.6 L369.2,1368.9 L370.3,1370.3 L371.4,1371.7 L372.6,1373.0 L373.8,1374.3 L374.9,1375.5 L376.1,1376.7 L377.2,1377.9 L378.4,1379.0 L379.5,1380.1 L380.6,1381.1 L381.8,1382.1 L382.9,1383.1 L384.1,1384.0 L385.3,1384.9 L386.4,1385.8 L387.6,1386.6 L388.8,1387.5 L390.1,1388.3 L391.3,1389.1 L392.6,1389.9 L393.9,1390.7 L395.2,1391.4 L396.5,1392.2 L397.9,1392.9 L399.2,1393.7 L400.6,1394.4 L402.0,1395.1 L403.4,1395.7 L404.9,1396.4 L406.4,1397.0 L407.9,1397.6 L409.4,1398.2 L411.0,1398.8 L412.6,1399.3 L414.2,1399.8 L415.9,1400.3 L417.6,1400.8 L419.4,1401.2 L421.2,1401.6 L423.0,1402.0 L424.9,1402.4 L426.7,1402.7 L428.6,1403.0 L430.5,1403.3 L432.3,1403.6 L434.2,1403.9 L436.0,1404.1 L437.8,1404.3 L439.6,1404.5 L441.4,1404.6 L443.4,1404.7 L445.3,1404.8 L447.3,1404.8 L449.3,1404.8 L451.2,1404.8 L453.1,1404.8 L455.0,1404.7 L456.7,1404.7 L458.3,1404.6 L459.8,1404.6 L461.1,1404.5 L462.2,1404.5 L463.1,1404.5 L465.3,1403.9 L466.9,1402.2 L467.5,1399.9 L466.9,1397.7 L465.2,1396.1 L462.9,1395.5 L462.0,1395.5 L460.8,1395.5 L459.5,1395.6 L458.0,1395.6 L456.4,1395.7 L454.7,1395.7 L452.9,1395.8 L451.1,1395.8 L449.3,1395.8 L447.4,1395.8 L445.6,1395.8 L443.8,1395.7 L442.0,1395.6 L440.4,1395.5 L438.8,1395.4 L437.1,1395.2 L435.3,1394.9 L433.6,1394.7 L431.8,1394.4 L430.1,1394.2 L428.3,1393.9 L426.6,1393.5 L424.9,1393.2 L423.2,1392.8 L421.5,1392.4 L419.9,1392.0 L418.3,1391.6 L416.8,1391.2 L415.3,1390.8 L413.8,1390.3 L412.4,1389.8 L411.0,1389.3 L409.7,1388.8 L408.3,1388.3 L407.0,1387.7 L405.7,1387.1 L404.4,1386.6 L403.1,1385.9 L401.9,1385.3 L400.6,1384.7 L399.4,1384.0 L398.1,1383.3 L396.9,1382.6 L395.7,1381.9 L394.6,1381.2 L393.5,1380.5 L392.3,1379.8 L391.3,1379.0 L390.2,1378.3 L389.1,1377.5 L388.1,1376.7 L387.0,1375.8 L386.0,1375.0 L384.9,1374.1 L383.8,1373.1 L382.8,1372.1 L381.7,1371.1 L380.6,1370.0 L379.5,1368.9 L378.4,1367.7 L377.3,1366.5 L376.2,1365.3 L375.1,1364.0 L374.1,1362.7 L373.0,1361.4 L372.0,1360.1 L370.9,1358.8 L370.0,1357.5 L369.0,1356.2 L368.1,1354.9 L367.2,1353.6 L366.3,1352.2 L365.4,1350.8 L364.5,1349.2 L363.6,1347.7 L362.8,1346.1 L361.9,1344.5 L361.1,1343.0 L360.4,1341.6 L359.6,1340.2 L359.0,1338.9 L358.4,1337.8 L357.8,1336.8 L357.4,1336.0 L356.2,1334.8 L354.6,1334.3 L353.0,1334.6 L351.8,1335.8 L351.3,1337.4Z" fill="#8fae9e"/>
<path d="M1789.9,1712.3 L1789.7,1713.0 L1789.6,1713.8 L1789.4,1714.8 L1789.2,1715.9 L1789.0,1717.0 L1788.8,1718.2 L1788.6,1719.4 L1788.4,1720.6 L1788.1,1721.9 L1787.8,1723.1 L1787.5,1724.3 L1787.2,1725.5 L1786.8,1726.5 L1786.5,1727.5 L1786.1,1728.5 L1785.6,1729.6 L1785.2,1730.7 L1784.7,1731.7 L1784.2,1732.8 L1783.7,1733.9 L1783.1,1734.9 L1782.5,1736.0 L1781.9,1737.0 L1781.2,1738.0 L1780.6,1739.0 L1779.9,1740.0 L1779.2,1740.9 L1778.4,1741.9 L1777.6,1742.8 L1776.7,1743.7 L1775.9,1744.6 L1774.9,1745.6 L1774.0,1746.5 L1773.0,1747.4 L1771.9,1748.2 L1770.9,1749.1 L1769.8,1750.0 L1768.7,1750.9 L1767.5,1751.7 L1766.3,1752.6 L1765.1,1753.4 L1763.9,1754.2 L1762.6,1755.0 L1761.3,1755.8 L1760.1,1756.6 L1758.7,1757.4 L1757.4,1758.2 L1756.1,1758.9 L1754.7,1759.6 L1753.3,1760.3 L1751.9,1761.0 L1750.4,1761.7 L1748.9,1762.4 L1747.4,1763.0 L1745.8,1763.6 L1744.1,1764.2 L1742.4,1764.7 L1740.6,1765.3 L1738.8,1765.8 L1737.0,1766.3 L1735.1,1766.8 L1733.1,1767.2 L1731.1,1767.7 L1729.1,1768.1 L1727.1,1768.5 L1725.0,1768.9 L1722.8,1769.3 L1720.7,1769.6 L1718.5,1769.9 L1716.3,1770.2 L1714.0,1770.5 L1711.5,1770.8 L1708.8,1771.1 L1706.0,1771.3 L1703.1,1771.5 L1700.2,1771.7 L1697.3,1771.9 L1694.5,1772.1 L1691.8,1772.2 L1689.2,1772.4 L1686.9,1772.5 L1684.8,1772.6 L1683.0,1772.7 L1681.5,1772.8 L1679.3,1773.6 L1677.8,1775.3 L1677.3,1777.6 L1678.1,1779.8 L1679.8,1781.3 L1682.1,1781.8 L1683.5,1781.7 L1685.3,1781.6 L1687.4,1781.5 L1689.7,1781.4 L1692.3,1781.2 L1695.0,1781.1 L1697.8,1780.9 L1700.8,1780.7 L1703.7,1780.5 L1706.7,1780.3 L1709.6,1780.0 L1712.4,1779.8 L1715.0,1779.5 L1717.5,1779.2 L1719.8,1778.8 L1722.1,1778.4 L1724.4,1778.0 L1726.6,1777.6 L1728.8,1777.2 L1730.9,1776.7 L1733.1,1776.2 L1735.2,1775.7 L1737.2,1775.2 L1739.2,1774.6 L1741.2,1774.1 L1743.1,1773.5 L1745.0,1772.9 L1746.9,1772.2 L1748.7,1771.6 L1750.5,1770.9 L1752.2,1770.2 L1753.9,1769.5 L1755.5,1768.7 L1757.1,1768.0 L1758.6,1767.2 L1760.1,1766.4 L1761.6,1765.6 L1763.0,1764.7 L1764.4,1763.9 L1765.8,1763.1 L1767.2,1762.2 L1768.5,1761.4 L1769.9,1760.5 L1771.2,1759.6 L1772.5,1758.7 L1773.8,1757.8 L1775.0,1756.9 L1776.3,1756.0 L1777.5,1755.0 L1778.7,1754.0 L1779.9,1753.0 L1781.0,1752.0 L1782.1,1751.0 L1783.2,1749.9 L1784.2,1748.8 L1785.2,1747.7 L1786.2,1746.6 L1787.1,1745.5 L1788.0,1744.3 L1788.8,1743.1 L1789.6,1741.9 L1790.4,1740.7 L1791.1,1739.5 L1791.8,1738.3 L1792.5,1737.0 L1793.1,1735.8 L1793.7,1734.6 L1794.3,1733.4 L1794.8,1732.1 L1795.3,1730.9 L1795.8,1729.5 L1796.2,1728.1 L1796.6,1726.7 L1796.9,1725.2 L1797.2,1723.8 L1797.5,1722.3 L1797.7,1721.0 L1797.9,1719.6 L1798.1,1718.4 L1798.3,1717.2 L1798.4,1716.2 L1798.5,1715.3 L1798.6,1714.5 L1798.7,1713.9 L1798.5,1711.6 L1797.2,1709.7 L1795.1,1708.7 L1792.8,1708.9 L1790.9,1710.2Z" fill="#e0ad72"/>
<defs><linearGradient id="tealg" x1="0" y1="0" x2="1" y2="1"><stop offset="0" stop-color="#0f86a0"/><stop offset="1" stop-color="#5bb4cf"/></linearGradient><linearGradient id="org" x1="0" y1="1" x2="1" y2="0"><stop offset="0" stop-color="#fbb024"/><stop offset="1" stop-color="#f7941d"/></linearGradient></defs>
<path fill="#000" d="M212.2,2338.4 A76.5,76.5 0 1 0 240.2,2467.0 A70.3,70.3 0 1 1 212.2,2338.4 Z"/>
<path fill="url(#tealg)" d="M157.5,2364.5 C170,2352 182,2347 194,2347 C225,2347 247,2368 249.5,2392 C250.5,2401 249.5,2410 247,2417 C247,2404 243,2391 232,2378.5 C221,2366 207,2357 192,2356.5 C180,2356 168,2359 157.5,2364.5 Z"/>
<path fill="url(#org)" d="M140.3,2412 C146,2440 168,2456 197,2456 C226,2456 251,2428 254,2386.5 C258,2396 260,2404 259.5,2412 C257,2446 230,2470 197,2470 C165,2470 140,2446 140.3,2412 Z"/>
<circle cx="159.5" cy="2376" r="4.6" fill="#000"/>
<circle cx="154.2" cy="2399" r="7" fill="#000"/>
<circle cx="165.1" cy="2424.2" r="9.8" fill="#000"/>
<circle cx="194.3" cy="2437.4" r="11.6" fill="#000"/>
<ellipse cx="225.4" cy="2423.5" rx="11.5" ry="10" transform="rotate(-20 225.4 2423.5)" fill="#000"/>
<path d="M236,2421 L217.5,2384.5" stroke="#000" stroke-width="4.2" stroke-linecap="round" fill="none"/>
<path d="M216.5,2385 C222,2383 226,2388 230,2390 C234,2392 237,2393.5 239.5,2397 C235,2394.5 230,2394.5 225,2395 C222,2395.3 220.5,2394 219.5,2392 Z" fill="#000"/>
<text x="277.0" y="2436.8" font-family="'Liberation Sans',sans-serif" font-size="75" font-weight="700" font-style="italic" fill="#000" textLength="324.5" lengthAdjust="spacingAndGlyphs" >Brain Ball</text>
<text x="603.5" y="2394.5" font-family="'Liberation Sans',sans-serif" font-size="15" font-weight="700" fill="#000">®</text>
<text x="1316.5" y="2373.3" font-family="'Liberation Sans',sans-serif" font-size="35.5" font-weight="400" font-style="normal" fill="#1f325c" textLength="405.5" lengthAdjust="spacingAndGlyphs" >Envie d’en savoir plus ?</text>
<text x="1408.0" y="2426.7" font-family="'Liberation Sans',sans-serif" font-size="34.5" font-weight="400" font-style="normal" fill="#1f325c" textLength="309.0" lengthAdjust="spacingAndGlyphs" >Rendez-vous sur</text>
<text x="1407.0" y="2474.0" font-family="'Liberation Sans',sans-serif" font-size="36" font-weight="700" font-style="normal" fill="#1f325c" textLength="310.0" lengthAdjust="spacingAndGlyphs" >www.brainball.fr</text>
<circle cx="1351" cy="2438" r="37" fill="#1f325c"/>
<path d="M1346,2423.5 L1361.5,2438 L1346,2452.5" stroke="#fff" stroke-width="6.5" stroke-linecap="round" stroke-linejoin="round" fill="none"/>
<rect x="1765.5" y="2290.5" width="241" height="241" fill="#fff"/>
<path d="M1846.66,2311.40h6.04v6.19h-6.04zM1864.77,2311.40h6.04v6.19h-6.04zM1876.85,2311.40h6.04v6.19h-6.04zM1900.99,2311.40h12.07v6.19h-12.07zM1925.14,2311.40h12.07v6.19h-12.07zM1834.59,2317.44h12.07v6.19h-12.07zM1852.70,2317.44h6.04v6.19h-6.04zM1864.77,2317.44h24.15v6.19h-24.15zM1894.95,2317.44h6.04v6.19h-6.04zM1907.03,2317.44h6.04v6.19h-6.04zM1931.17,2317.44h6.04v6.19h-6.04zM1840.63,2323.47h6.04v6.19h-6.04zM1870.81,2323.47h12.07v6.19h-12.07zM1888.92,2323.47h12.07v6.19h-12.07zM1913.06,2323.47h6.04v6.19h-6.04zM1840.63,2329.51h24.15v6.19h-24.15zM1882.88,2329.51h12.07v6.19h-12.07zM1907.03,2329.51h6.04v6.19h-6.04zM1840.63,2335.55h6.04v6.19h-6.04zM1858.74,2335.55h6.04v6.19h-6.04zM1876.85,2335.55h12.07v6.19h-12.07zM1894.95,2335.55h6.04v6.19h-6.04zM1907.03,2335.55h12.07v6.19h-12.07zM1834.59,2341.58h36.22v6.19h-36.22zM1882.88,2341.58h12.07v6.19h-12.07zM1900.99,2341.58h6.04v6.19h-6.04zM1919.10,2341.58h18.11v6.19h-18.11zM1834.59,2347.62h6.04v6.19h-6.04zM1846.66,2347.62h6.04v6.19h-6.04zM1858.74,2347.62h6.04v6.19h-6.04zM1870.81,2347.62h6.04v6.19h-6.04zM1882.88,2347.62h6.04v6.19h-6.04zM1894.95,2347.62h6.04v6.19h-6.04zM1907.03,2347.62h6.04v6.19h-6.04zM1919.10,2347.62h6.04v6.19h-6.04zM1931.17,2347.62h6.04v6.19h-6.04zM1834.59,2353.65h12.07v6.19h-12.07zM1870.81,2353.65h18.11v6.19h-18.11zM1913.06,2353.65h6.04v6.19h-6.04zM1931.17,2353.65h6.04v6.19h-6.04zM1810.45,2359.69h24.15v6.19h-24.15zM1840.63,2359.69h6.04v6.19h-6.04zM1858.74,2359.69h18.11v6.19h-18.11zM1888.92,2359.69h12.07v6.19h-12.07zM1907.03,2359.69h30.18v6.19h-30.18zM1943.25,2359.69h12.07v6.19h-12.07zM1973.43,2359.69h6.04v6.19h-6.04zM1804.41,2365.73h18.11v6.19h-18.11zM1828.55,2365.73h18.11v6.19h-18.11zM1852.70,2365.73h12.07v6.19h-12.07zM1876.85,2365.73h6.04v6.19h-6.04zM1888.92,2365.73h12.07v6.19h-12.07zM1907.03,2365.73h6.04v6.19h-6.04zM1925.14,2365.73h12.07v6.19h-12.07zM1949.28,2365.73h6.04v6.19h-6.04zM1961.35,2365.73h6.04v6.19h-6.04zM1792.34,2371.76h18.11v6.19h-18.11zM1816.48,2371.76h12.07v6.19h-12.07zM1858.74,2371.76h6.04v6.19h-6.04zM1870.81,2371.76h36.22v6.19h-36.22zM1913.06,2371.76h18.11v6.19h-18.11zM1943.25,2371.76h36.22v6.19h-36.22zM1786.30,2377.80h18.11v6.19h-18.11zM1810.45,2377.80h6.04v6.19h-6.04zM1840.63,2377.80h12.07v6.19h-12.07zM1876.85,2377.80h6.04v6.19h-6.04zM1913.06,2377.80h6.04v6.19h-6.04zM1925.14,2377.80h18.11v6.19h-18.11zM1955.32,2377.80h6.04v6.19h-6.04zM1979.46,2377.80h6.04v6.19h-6.04zM1810.45,2383.84h6.04v6.19h-6.04zM1822.52,2383.84h6.04v6.19h-6.04zM1840.63,2383.84h12.07v6.19h-12.07zM1858.74,2383.84h6.04v6.19h-6.04zM1870.81,2383.84h6.04v6.19h-6.04zM1925.14,2383.84h12.07v6.19h-12.07zM1943.25,2383.84h12.07v6.19h-12.07zM1973.43,2383.84h12.07v6.19h-12.07zM1786.30,2389.87h6.04v6.19h-6.04zM1798.37,2389.87h24.15v6.19h-24.15zM1828.55,2389.87h6.04v6.19h-6.04zM1840.63,2389.87h6.04v6.19h-6.04zM1858.74,2389.87h12.07v6.19h-12.07zM1876.85,2389.87h6.04v6.19h-6.04zM1900.99,2389.87h30.18v6.19h-30.18zM1937.21,2389.87h6.04v6.19h-6.04zM1973.43,2389.87h6.04v6.19h-6.04zM1792.34,2395.91h18.11v6.19h-18.11zM1816.48,2395.91h12.07v6.19h-12.07zM1834.59,2395.91h6.04v6.19h-6.04zM1846.66,2395.91h12.07v6.19h-12.07zM1870.81,2395.91h12.07v6.19h-12.07zM1888.92,2395.91h6.04v6.19h-6.04zM1907.03,2395.91h6.04v6.19h-6.04zM1925.14,2395.91h6.04v6.19h-6.04zM1937.21,2395.91h12.07v6.19h-12.07zM1955.32,2395.91h12.07v6.19h-12.07zM1973.43,2395.91h6.04v6.19h-6.04zM1792.34,2401.95h12.07v6.19h-12.07zM1810.45,2401.95h6.04v6.19h-6.04zM1828.55,2401.95h6.04v6.19h-6.04zM1858.74,2401.95h6.04v6.19h-6.04zM1870.81,2401.95h6.04v6.19h-6.04zM1882.88,2401.95h6.04v6.19h-6.04zM1900.99,2401.95h6.04v6.19h-6.04zM1913.06,2401.95h6.04v6.19h-6.04zM1937.21,2401.95h30.18v6.19h-30.18zM1973.43,2401.95h12.07v6.19h-12.07zM1786.30,2407.98h6.04v6.19h-6.04zM1804.41,2407.98h6.04v6.19h-6.04zM1822.52,2407.98h18.11v6.19h-18.11zM1846.66,2407.98h6.04v6.19h-6.04zM1858.74,2407.98h12.07v6.19h-12.07zM1888.92,2407.98h6.04v6.19h-6.04zM1900.99,2407.98h6.04v6.19h-6.04zM1913.06,2407.98h6.04v6.19h-6.04zM1943.25,2407.98h6.04v6.19h-6.04zM1955.32,2407.98h6.04v6.19h-6.04zM1967.39,2407.98h12.07v6.19h-12.07zM1786.30,2414.02h12.07v6.19h-12.07zM1804.41,2414.02h6.04v6.19h-6.04zM1828.55,2414.02h6.04v6.19h-6.04zM1840.63,2414.02h6.04v6.19h-6.04zM1852.70,2414.02h18.11v6.19h-18.11zM1894.95,2414.02h12.07v6.19h-12.07zM1913.06,2414.02h6.04v6.19h-6.04zM1925.14,2414.02h18.11v6.19h-18.11zM1979.46,2414.02h6.04v6.19h-6.04zM1810.45,2420.05h6.04v6.19h-6.04zM1822.52,2420.05h12.07v6.19h-12.07zM1846.66,2420.05h6.04v6.19h-6.04zM1858.74,2420.05h12.07v6.19h-12.07zM1876.85,2420.05h6.04v6.19h-6.04zM1894.95,2420.05h24.15v6.19h-24.15zM1925.14,2420.05h24.15v6.19h-24.15zM1961.35,2420.05h6.04v6.19h-6.04zM1973.43,2420.05h6.04v6.19h-6.04zM1786.30,2426.09h6.04v6.19h-6.04zM1798.37,2426.09h6.04v6.19h-6.04zM1816.48,2426.09h6.04v6.19h-6.04zM1828.55,2426.09h6.04v6.19h-6.04zM1846.66,2426.09h12.07v6.19h-12.07zM1870.81,2426.09h12.07v6.19h-12.07zM1888.92,2426.09h12.07v6.19h-12.07zM1913.06,2426.09h12.07v6.19h-12.07zM1943.25,2426.09h6.04v6.19h-6.04zM1979.46,2426.09h6.04v6.19h-6.04zM1798.37,2432.13h6.04v6.19h-6.04zM1816.48,2432.13h12.07v6.19h-12.07zM1834.59,2432.13h6.04v6.19h-6.04zM1846.66,2432.13h6.04v6.19h-6.04zM1870.81,2432.13h6.04v6.19h-6.04zM1888.92,2432.13h6.04v6.19h-6.04zM1913.06,2432.13h12.07v6.19h-12.07zM1955.32,2432.13h12.07v6.19h-12.07zM1973.43,2432.13h12.07v6.19h-12.07zM1786.30,2438.16h6.04v6.19h-6.04zM1798.37,2438.16h6.04v6.19h-6.04zM1810.45,2438.16h12.07v6.19h-12.07zM1834.59,2438.16h12.07v6.19h-12.07zM1864.77,2438.16h6.04v6.19h-6.04zM1888.92,2438.16h12.07v6.19h-12.07zM1931.17,2438.16h24.15v6.19h-24.15zM1967.39,2438.16h12.07v6.19h-12.07zM1798.37,2444.20h18.11v6.19h-18.11zM1822.52,2444.20h30.18v6.19h-30.18zM1864.77,2444.20h6.04v6.19h-6.04zM1894.95,2444.20h6.04v6.19h-6.04zM1907.03,2444.20h12.07v6.19h-12.07zM1925.14,2444.20h12.07v6.19h-12.07zM1955.32,2444.20h18.11v6.19h-18.11zM1798.37,2450.24h18.11v6.19h-18.11zM1834.59,2450.24h30.18v6.19h-30.18zM1870.81,2450.24h6.04v6.19h-6.04zM1888.92,2450.24h6.04v6.19h-6.04zM1907.03,2450.24h12.07v6.19h-12.07zM1925.14,2450.24h6.04v6.19h-6.04zM1949.28,2450.24h12.07v6.19h-12.07zM1786.30,2456.27h12.07v6.19h-12.07zM1804.41,2456.27h12.07v6.19h-12.07zM1822.52,2456.27h24.15v6.19h-24.15zM1852.70,2456.27h12.07v6.19h-12.07zM1882.88,2456.27h6.04v6.19h-6.04zM1907.03,2456.27h12.07v6.19h-12.07zM1931.17,2456.27h30.18v6.19h-30.18zM1834.59,2462.31h12.07v6.19h-12.07zM1870.81,2462.31h18.11v6.19h-18.11zM1894.95,2462.31h30.18v6.19h-30.18zM1931.17,2462.31h6.04v6.19h-6.04zM1955.32,2462.31h6.04v6.19h-6.04zM1967.39,2462.31h12.07v6.19h-12.07zM1834.59,2468.35h6.04v6.19h-6.04zM1846.66,2468.35h6.04v6.19h-6.04zM1864.77,2468.35h6.04v6.19h-6.04zM1876.85,2468.35h18.11v6.19h-18.11zM1907.03,2468.35h6.04v6.19h-6.04zM1931.17,2468.35h6.04v6.19h-6.04zM1943.25,2468.35h6.04v6.19h-6.04zM1955.32,2468.35h6.04v6.19h-6.04zM1967.39,2468.35h12.07v6.19h-12.07zM1834.59,2474.38h6.04v6.19h-6.04zM1858.74,2474.38h6.04v6.19h-6.04zM1870.81,2474.38h24.15v6.19h-24.15zM1900.99,2474.38h12.07v6.19h-12.07zM1919.10,2474.38h6.04v6.19h-6.04zM1931.17,2474.38h6.04v6.19h-6.04zM1955.32,2474.38h6.04v6.19h-6.04zM1973.43,2474.38h12.07v6.19h-12.07zM1834.59,2480.42h6.04v6.19h-6.04zM1852.70,2480.42h12.07v6.19h-12.07zM1870.81,2480.42h6.04v6.19h-6.04zM1888.92,2480.42h24.15v6.19h-24.15zM1919.10,2480.42h6.04v6.19h-6.04zM1931.17,2480.42h30.18v6.19h-30.18zM1840.63,2486.45h6.04v6.19h-6.04zM1858.74,2486.45h30.18v6.19h-30.18zM1900.99,2486.45h6.04v6.19h-6.04zM1913.06,2486.45h6.04v6.19h-6.04zM1925.14,2486.45h12.07v6.19h-12.07zM1943.25,2486.45h24.15v6.19h-24.15zM1979.46,2486.45h6.04v6.19h-6.04zM1846.66,2492.49h6.04v6.19h-6.04zM1858.74,2492.49h12.07v6.19h-12.07zM1882.88,2492.49h18.11v6.19h-18.11zM1907.03,2492.49h6.04v6.19h-6.04zM1925.14,2492.49h6.04v6.19h-6.04zM1937.21,2492.49h12.07v6.19h-12.07zM1955.32,2492.49h18.11v6.19h-18.11zM1846.66,2498.53h6.04v6.19h-6.04zM1876.85,2498.53h12.07v6.19h-12.07zM1900.99,2498.53h18.11v6.19h-18.11zM1925.14,2498.53h18.11v6.19h-18.11zM1949.28,2498.53h12.07v6.19h-12.07zM1967.39,2498.53h6.04v6.19h-6.04zM1852.70,2504.56h18.11v6.19h-18.11zM1876.85,2504.56h12.07v6.19h-12.07zM1900.99,2504.56h6.04v6.19h-6.04zM1913.06,2504.56h24.15v6.19h-24.15zM1949.28,2504.56h6.04v6.19h-6.04zM1967.39,2504.56h6.04v6.19h-6.04zM1979.46,2504.56h6.04v6.19h-6.04z" fill="#1f325c"/>
<rect x="1789.32" y="2314.42" width="36.22" height="36.22" rx="11.47" fill="none" stroke="#1f325c" stroke-width="6.04"/>
<rect x="1798.37" y="2323.47" width="18.11" height="18.11" rx="5.43" fill="#1f325c"/>
<rect x="1946.26" y="2314.42" width="36.22" height="36.22" rx="11.47" fill="none" stroke="#1f325c" stroke-width="6.04"/>
<rect x="1955.32" y="2323.47" width="18.11" height="18.11" rx="5.43" fill="#1f325c"/>
<rect x="1789.32" y="2471.36" width="36.22" height="36.22" rx="11.47" fill="none" stroke="#1f325c" stroke-width="6.04"/>
<rect x="1798.37" y="2480.42" width="18.11" height="18.11" rx="5.43" fill="#1f325c"/>

</svg>
</body></html>
